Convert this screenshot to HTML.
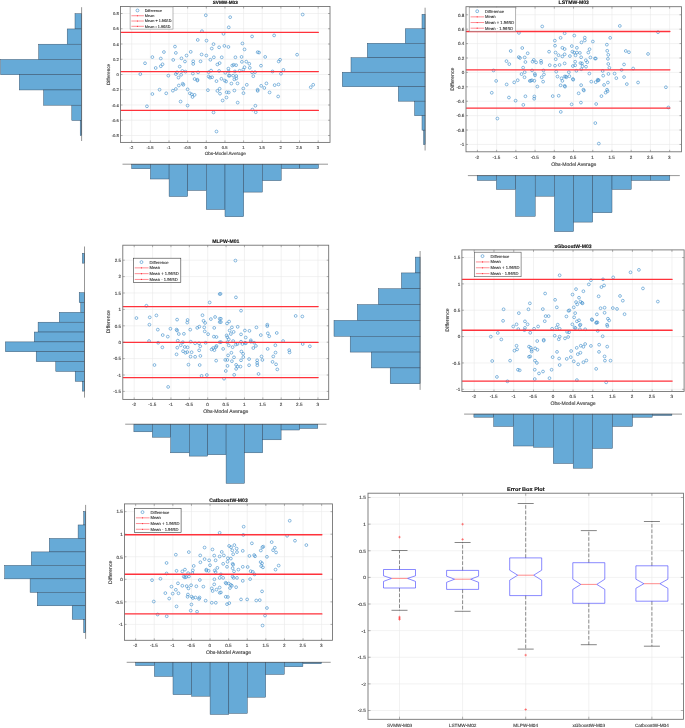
<!DOCTYPE html>
<html lang="en"><head><meta charset="utf-8"><title>Bland-Altman plots and error box plot</title>
<style>html,body{margin:0;padding:0;background:#fff}svg{display:block;text-rendering:geometricPrecision}</style></head>
<body>
<svg width="685" height="728" viewBox="0 0 685 728" font-family="'Liberation Sans', Arial, sans-serif">
<rect width="685" height="728" fill="#fff"/>
<defs><filter id="soft" x="0" y="0" width="100%" height="100%" filterUnits="userSpaceOnUse"><feGaussianBlur stdDeviation="0.32"/></filter></defs>
<g filter="url(#soft)">
<rect width="685" height="728" fill="#fff"/>
<rect x="120.5" y="6.5" width="209.5" height="135.9" fill="#fff"/>
<path d="M131.7 6.5V142.4M150.35 6.5V142.4M169 6.5V142.4M187.65 6.5V142.4M206.3 6.5V142.4M224.95 6.5V142.4M243.6 6.5V142.4M262.25 6.5V142.4M280.9 6.5V142.4M299.55 6.5V142.4M318.2 6.5V142.4M120.5 135.5H330M120.5 120.25H330M120.5 105H330M120.5 89.75H330M120.5 74.5H330M120.5 59.25H330M120.5 44H330M120.5 28.75H330M120.5 13.5H330" stroke="#e9e9e9" stroke-width="0.6" fill="none"/>
<g fill="none" stroke="#3b8cc9" stroke-width="0.6">
<circle cx="205.81" cy="15.24" r="1.4"/>
<circle cx="201.96" cy="31.18" r="1.4"/>
<circle cx="197.75" cy="39.94" r="1.4"/>
<circle cx="206.51" cy="40.64" r="1.4"/>
<circle cx="213.52" cy="44.15" r="1.4"/>
<circle cx="219.12" cy="47.3" r="1.4"/>
<circle cx="174.98" cy="46.6" r="1.4"/>
<circle cx="163.94" cy="52.03" r="1.4"/>
<circle cx="175.85" cy="52.91" r="1.4"/>
<circle cx="190.74" cy="51.85" r="1.4"/>
<circle cx="211.77" cy="48.53" r="1.4"/>
<circle cx="201.61" cy="54.48" r="1.4"/>
<circle cx="206.34" cy="55.53" r="1.4"/>
<circle cx="152.38" cy="57.11" r="1.4"/>
<circle cx="160.79" cy="58.51" r="1.4"/>
<circle cx="181.46" cy="58.34" r="1.4"/>
<circle cx="186.54" cy="55.53" r="1.4"/>
<circle cx="213.87" cy="57.28" r="1.4"/>
<circle cx="173.23" cy="59.91" r="1.4"/>
<circle cx="184.96" cy="61.49" r="1.4"/>
<circle cx="193.2" cy="61.31" r="1.4"/>
<circle cx="200.55" cy="61.31" r="1.4"/>
<circle cx="210.36" cy="59.74" r="1.4"/>
<circle cx="145.02" cy="63.24" r="1.4"/>
<circle cx="162.54" cy="64.29" r="1.4"/>
<circle cx="160.79" cy="66.22" r="1.4"/>
<circle cx="155.71" cy="67.97" r="1.4"/>
<circle cx="179.71" cy="66.57" r="1.4"/>
<circle cx="193.2" cy="63.94" r="1.4"/>
<circle cx="217.37" cy="64.47" r="1.4"/>
<circle cx="219.65" cy="63.07" r="1.4"/>
<circle cx="140.29" cy="74.1" r="1.4"/>
<circle cx="168.32" cy="75.68" r="1.4"/>
<circle cx="175.85" cy="74.1" r="1.4"/>
<circle cx="177.08" cy="72.35" r="1.4"/>
<circle cx="182.34" cy="70.95" r="1.4"/>
<circle cx="185.49" cy="71.65" r="1.4"/>
<circle cx="181.11" cy="74.8" r="1.4"/>
<circle cx="178.48" cy="77.61" r="1.4"/>
<circle cx="192.85" cy="73.58" r="1.4"/>
<circle cx="198.1" cy="72.35" r="1.4"/>
<circle cx="208.61" cy="72.18" r="1.4"/>
<circle cx="211.07" cy="70.6" r="1.4"/>
<circle cx="219.12" cy="70.95" r="1.4"/>
<circle cx="208.61" cy="76.55" r="1.4"/>
<circle cx="210.01" cy="77.61" r="1.4"/>
<circle cx="212.12" cy="77.26" r="1.4"/>
<circle cx="194.6" cy="79.01" r="1.4"/>
<circle cx="197.4" cy="79.71" r="1.4"/>
<circle cx="216.5" cy="81.11" r="1.4"/>
<circle cx="182.69" cy="83.74" r="1.4"/>
<circle cx="183.39" cy="84.79" r="1.4"/>
<circle cx="178.83" cy="85.49" r="1.4"/>
<circle cx="187.59" cy="89.34" r="1.4"/>
<circle cx="159.56" cy="89.69" r="1.4"/>
<circle cx="175.85" cy="88.99" r="1.4"/>
<circle cx="152.38" cy="94.01" r="1.4"/>
<circle cx="166.22" cy="93.31" r="1.4"/>
<circle cx="172.88" cy="90.69" r="1.4"/>
<circle cx="189.87" cy="93.31" r="1.4"/>
<circle cx="191.8" cy="94.36" r="1.4"/>
<circle cx="194.6" cy="94.89" r="1.4"/>
<circle cx="192.5" cy="96.99" r="1.4"/>
<circle cx="180.58" cy="101.55" r="1.4"/>
<circle cx="187.59" cy="105.58" r="1.4"/>
<circle cx="146.95" cy="106.28" r="1.4"/>
<circle cx="207.91" cy="90.16" r="1.4"/>
<circle cx="217.37" cy="90.86" r="1.4"/>
<circle cx="219.65" cy="88.76" r="1.4"/>
<circle cx="213.52" cy="112.41" r="1.4"/>
<circle cx="216.5" cy="131.5" r="1.4"/>
<circle cx="197.4" cy="80.53" r="1.4"/>
<circle cx="220" cy="93.66" r="1.4"/>
<circle cx="230.16" cy="17.17" r="1.4"/>
<circle cx="228.76" cy="27.33" r="1.4"/>
<circle cx="223.5" cy="33.81" r="1.4"/>
<circle cx="302.69" cy="14.54" r="1.4"/>
<circle cx="252.06" cy="36.44" r="1.4"/>
<circle cx="274.13" cy="35.39" r="1.4"/>
<circle cx="242.42" cy="43.45" r="1.4"/>
<circle cx="224.38" cy="45.9" r="1.4"/>
<circle cx="228.41" cy="46.95" r="1.4"/>
<circle cx="244.53" cy="49.4" r="1.4"/>
<circle cx="257.66" cy="52.2" r="1.4"/>
<circle cx="259.07" cy="52.55" r="1.4"/>
<circle cx="265.2" cy="56.93" r="1.4"/>
<circle cx="297.08" cy="54.66" r="1.4"/>
<circle cx="221.75" cy="57.28" r="1.4"/>
<circle cx="235.42" cy="57.28" r="1.4"/>
<circle cx="241.55" cy="56.93" r="1.4"/>
<circle cx="241.9" cy="61.84" r="1.4"/>
<circle cx="246.28" cy="61.66" r="1.4"/>
<circle cx="249.26" cy="63.77" r="1.4"/>
<circle cx="280.09" cy="59.74" r="1.4"/>
<circle cx="278.69" cy="61.49" r="1.4"/>
<circle cx="232.26" cy="65.52" r="1.4"/>
<circle cx="233.66" cy="64.82" r="1.4"/>
<circle cx="236.12" cy="65.17" r="1.4"/>
<circle cx="260.99" cy="65.69" r="1.4"/>
<circle cx="244.53" cy="67.27" r="1.4"/>
<circle cx="249.78" cy="67.8" r="1.4"/>
<circle cx="228.41" cy="68.67" r="1.4"/>
<circle cx="243.3" cy="69.55" r="1.4"/>
<circle cx="239.62" cy="70.77" r="1.4"/>
<circle cx="234.89" cy="71.47" r="1.4"/>
<circle cx="228.76" cy="71.47" r="1.4"/>
<circle cx="225.26" cy="72.7" r="1.4"/>
<circle cx="283.42" cy="69.9" r="1.4"/>
<circle cx="272.55" cy="71.47" r="1.4"/>
<circle cx="255.04" cy="72.18" r="1.4"/>
<circle cx="252.06" cy="72.35" r="1.4"/>
<circle cx="280.96" cy="73.75" r="1.4"/>
<circle cx="253.28" cy="76.2" r="1.4"/>
<circle cx="228.76" cy="75.68" r="1.4"/>
<circle cx="229.64" cy="75.68" r="1.4"/>
<circle cx="236.29" cy="76.03" r="1.4"/>
<circle cx="233.14" cy="75.68" r="1.4"/>
<circle cx="236.29" cy="78.48" r="1.4"/>
<circle cx="234.36" cy="79.36" r="1.4"/>
<circle cx="221.4" cy="78.83" r="1.4"/>
<circle cx="224.73" cy="80.58" r="1.4"/>
<circle cx="226.13" cy="81.46" r="1.4"/>
<circle cx="231.39" cy="83.56" r="1.4"/>
<circle cx="237.52" cy="83.39" r="1.4"/>
<circle cx="246.8" cy="84.79" r="1.4"/>
<circle cx="266.42" cy="83.39" r="1.4"/>
<circle cx="261.17" cy="85.84" r="1.4"/>
<circle cx="264.32" cy="87.94" r="1.4"/>
<circle cx="274.66" cy="85.14" r="1.4"/>
<circle cx="278.51" cy="84.44" r="1.4"/>
<circle cx="313.2" cy="84.79" r="1.4"/>
<circle cx="310.74" cy="87.24" r="1.4"/>
<circle cx="243.3" cy="88.47" r="1.4"/>
<circle cx="257.66" cy="89.69" r="1.4"/>
<circle cx="234.36" cy="90.51" r="1.4"/>
<circle cx="257.66" cy="90.86" r="1.4"/>
<circle cx="226.66" cy="92.26" r="1.4"/>
<circle cx="228.76" cy="92.44" r="1.4"/>
<circle cx="243.47" cy="93.14" r="1.4"/>
<circle cx="269.58" cy="92.44" r="1.4"/>
<circle cx="278.16" cy="96.47" r="1.4"/>
<circle cx="226.48" cy="97.52" r="1.4"/>
<circle cx="222.63" cy="100.5" r="1.4"/>
<circle cx="237.69" cy="102.6" r="1.4"/>
<circle cx="255.39" cy="105.75" r="1.4"/>
<circle cx="252.41" cy="109.61" r="1.4"/>
<circle cx="255.74" cy="112.23" r="1.4"/>
</g>
<path d="M121 32.28H318.4" stroke="#ff303b" stroke-width="1.2" stroke-linecap="round" fill="none"/>
<path d="M121 71.55H318.4" stroke="#ff303b" stroke-width="1.2" stroke-linecap="round" fill="none"/>
<path d="M121 110.44H318.4" stroke="#ff303b" stroke-width="1.2" stroke-linecap="round" fill="none"/>
<path d="M131.7 142.4v-2.0M131.7 6.5v2.0M150.35 142.4v-2.0M150.35 6.5v2.0M169 142.4v-2.0M169 6.5v2.0M187.65 142.4v-2.0M187.65 6.5v2.0M206.3 142.4v-2.0M206.3 6.5v2.0M224.95 142.4v-2.0M224.95 6.5v2.0M243.6 142.4v-2.0M243.6 6.5v2.0M262.25 142.4v-2.0M262.25 6.5v2.0M280.9 142.4v-2.0M280.9 6.5v2.0M299.55 142.4v-2.0M299.55 6.5v2.0M318.2 142.4v-2.0M318.2 6.5v2.0M120.5 135.5h2.0M330 135.5h-2.0M120.5 120.25h2.0M330 120.25h-2.0M120.5 105h2.0M330 105h-2.0M120.5 89.75h2.0M330 89.75h-2.0M120.5 74.5h2.0M330 74.5h-2.0M120.5 59.25h2.0M330 59.25h-2.0M120.5 44h2.0M330 44h-2.0M120.5 28.75h2.0M330 28.75h-2.0M120.5 13.5h2.0M330 13.5h-2.0" stroke="#6c6c6c" stroke-width="0.5" fill="none"/>
<rect x="120.5" y="6.5" width="209.5" height="135.9" fill="none" stroke="#6c6c6c" stroke-width="0.85"/>
<g font-size="4.15" fill="#424242">
<text transform="translate(131.4 148.99) scale(0.1)" font-size="41.5" fill="#424242" text-anchor="middle" stroke="#424242" stroke-width="1.3">-2</text>
<text transform="translate(150.05 148.99) scale(0.1)" font-size="41.5" fill="#424242" text-anchor="middle" stroke="#424242" stroke-width="1.3">-1.5</text>
<text transform="translate(168.7 148.99) scale(0.1)" font-size="41.5" fill="#424242" text-anchor="middle" stroke="#424242" stroke-width="1.3">-1</text>
<text transform="translate(187.35 148.99) scale(0.1)" font-size="41.5" fill="#424242" text-anchor="middle" stroke="#424242" stroke-width="1.3">-0.5</text>
<text transform="translate(206 148.99) scale(0.1)" font-size="41.5" fill="#424242" text-anchor="middle" stroke="#424242" stroke-width="1.3">0</text>
<text transform="translate(224.65 148.99) scale(0.1)" font-size="41.5" fill="#424242" text-anchor="middle" stroke="#424242" stroke-width="1.3">0.5</text>
<text transform="translate(243.3 148.99) scale(0.1)" font-size="41.5" fill="#424242" text-anchor="middle" stroke="#424242" stroke-width="1.3">1</text>
<text transform="translate(261.95 148.99) scale(0.1)" font-size="41.5" fill="#424242" text-anchor="middle" stroke="#424242" stroke-width="1.3">1.5</text>
<text transform="translate(280.6 148.99) scale(0.1)" font-size="41.5" fill="#424242" text-anchor="middle" stroke="#424242" stroke-width="1.3">2</text>
<text transform="translate(299.25 148.99) scale(0.1)" font-size="41.5" fill="#424242" text-anchor="middle" stroke="#424242" stroke-width="1.3">2.5</text>
<text transform="translate(317.9 148.99) scale(0.1)" font-size="41.5" fill="#424242" text-anchor="middle" stroke="#424242" stroke-width="1.3">3</text>
<text transform="translate(118.8 137.19) scale(0.1)" font-size="41.5" fill="#424242" text-anchor="end" stroke="#424242" stroke-width="1.3">-0.8</text>
<text transform="translate(118.8 121.94) scale(0.1)" font-size="41.5" fill="#424242" text-anchor="end" stroke="#424242" stroke-width="1.3">-0.6</text>
<text transform="translate(118.8 106.69) scale(0.1)" font-size="41.5" fill="#424242" text-anchor="end" stroke="#424242" stroke-width="1.3">-0.4</text>
<text transform="translate(118.8 91.44) scale(0.1)" font-size="41.5" fill="#424242" text-anchor="end" stroke="#424242" stroke-width="1.3">-0.2</text>
<text transform="translate(118.8 76.19) scale(0.1)" font-size="41.5" fill="#424242" text-anchor="end" stroke="#424242" stroke-width="1.3">0</text>
<text transform="translate(118.8 60.94) scale(0.1)" font-size="41.5" fill="#424242" text-anchor="end" stroke="#424242" stroke-width="1.3">0.2</text>
<text transform="translate(118.8 45.69) scale(0.1)" font-size="41.5" fill="#424242" text-anchor="end" stroke="#424242" stroke-width="1.3">0.4</text>
<text transform="translate(118.8 30.44) scale(0.1)" font-size="41.5" fill="#424242" text-anchor="end" stroke="#424242" stroke-width="1.3">0.6</text>
<text transform="translate(118.8 15.19) scale(0.1)" font-size="41.5" fill="#424242" text-anchor="end" stroke="#424242" stroke-width="1.3">0.8</text>
</g>
<text transform="translate(225.25 154.8) scale(0.1)" font-size="46.77" fill="#424242" text-anchor="middle" stroke="#424242" stroke-width="1.3">Obs-Model Average</text>
<text transform="translate(109.6 74.45) rotate(-90) scale(0.1)" font-size="46.77" fill="#424242" text-anchor="middle" stroke="#424242" stroke-width="1.3">Difference</text>
<text transform="translate(225.25 4.4) scale(0.1)" font-size="46.77" fill="#111" text-anchor="middle" font-weight="bold" stroke="#111" stroke-width="1.3">SVMW-M03</text>
<rect x="130.1" y="6.9" width="42.9" height="22.2" fill="#fff" stroke="#8a8a8a" stroke-width="0.6"/>
<circle cx="137.48" cy="10.45" r="1.45" fill="none" stroke="#3b8cc9" stroke-width="0.6"/>
<text transform="translate(144.77 11.83) scale(0.1)" font-size="38.18" fill="#2a2a2a" text-anchor="start" stroke="#2a2a2a" stroke-width="1">Difference</text>
<path d="M131.39 15.74H143.91" stroke="#ff303b" stroke-width="0.55"/>
<circle cx="137.48" cy="15.74" r="0.6" fill="#ff303b"/>
<text transform="translate(144.77 17.11) scale(0.1)" font-size="38.18" fill="#2a2a2a" text-anchor="start" stroke="#2a2a2a" stroke-width="1">Mean</text>
<path d="M131.39 21.02H143.91" stroke="#ff303b" stroke-width="0.55"/>
<circle cx="137.48" cy="21.02" r="0.6" fill="#ff303b"/>
<text transform="translate(144.77 22.39) scale(0.1)" font-size="38.18" fill="#2a2a2a" text-anchor="start" stroke="#2a2a2a" stroke-width="1">Mean + 1.96SD</text>
<path d="M131.39 26.3H143.91" stroke="#ff303b" stroke-width="0.55"/>
<circle cx="137.48" cy="26.3" r="0.6" fill="#ff303b"/>
<text transform="translate(144.77 27.68) scale(0.1)" font-size="38.18" fill="#2a2a2a" text-anchor="start" stroke="#2a2a2a" stroke-width="1">Mean - 1.96SD</text>
<g fill="#66aad7" stroke="#324a62" stroke-width="0.45">
<rect x="75" y="13.7" width="6.6" height="15.25"/>
<rect x="67.2" y="28.95" width="14.4" height="15.25"/>
<rect x="38.7" y="44.2" width="42.9" height="15.25"/>
<rect x="0.6" y="59.45" width="81" height="15.25"/>
<rect x="19.3" y="74.7" width="62.3" height="15.25"/>
<rect x="43.6" y="89.95" width="38" height="15.25"/>
<rect x="71.8" y="105.2" width="9.8" height="15.25"/>
<rect x="80.2" y="120.45" width="1.4" height="15.25"/>
</g>
<path d="M81.6 7.2V141" stroke="#505050" stroke-width="0.6"/>
<g fill="#66aad7" stroke="#324a62" stroke-width="0.45">
<rect x="131.7" y="164.2" width="18.7" height="4.5"/>
<rect x="150.4" y="164.2" width="18.7" height="14.8"/>
<rect x="169.1" y="164.2" width="18.6" height="32.3"/>
<rect x="187.7" y="164.2" width="18.6" height="26.2"/>
<rect x="206.3" y="164.2" width="18.7" height="45.3"/>
<rect x="225" y="164.2" width="18.7" height="52.5"/>
<rect x="243.7" y="164.2" width="18.7" height="27.9"/>
<rect x="262.4" y="164.2" width="18.8" height="16.4"/>
<rect x="281.2" y="164.2" width="18.6" height="4.3"/>
<rect x="299.8" y="164.2" width="18.7" height="4.3"/>
</g>
<path d="M122.5 164.2H328" stroke="#505050" stroke-width="0.6"/>
<rect x="466" y="6.7" width="215.5" height="145.1" fill="#fff"/>
<path d="M477.4 6.7V151.8M496.62 6.7V151.8M515.85 6.7V151.8M535.07 6.7V151.8M554.3 6.7V151.8M573.52 6.7V151.8M592.75 6.7V151.8M611.97 6.7V151.8M631.2 6.7V151.8M650.42 6.7V151.8M669.65 6.7V151.8M466 144.45H681.5M466 130.04H681.5M466 115.63H681.5M466 101.22H681.5M466 86.81H681.5M466 72.4H681.5M466 57.99H681.5M466 43.58H681.5M466 29.17H681.5M466 14.76H681.5" stroke="#e9e9e9" stroke-width="0.6" fill="none"/>
<g fill="none" stroke="#3b8cc9" stroke-width="0.6">
<circle cx="542.23" cy="26.45" r="1.4"/>
<circle cx="518.93" cy="32.93" r="1.4"/>
<circle cx="564.65" cy="33.28" r="1.4"/>
<circle cx="560.62" cy="37.84" r="1.4"/>
<circle cx="554.84" cy="40.64" r="1.4"/>
<circle cx="555.01" cy="45.72" r="1.4"/>
<circle cx="522.26" cy="48" r="1.4"/>
<circle cx="510.69" cy="50.98" r="1.4"/>
<circle cx="549.06" cy="51.68" r="1.4"/>
<circle cx="527.69" cy="53.26" r="1.4"/>
<circle cx="562.37" cy="47.82" r="1.4"/>
<circle cx="564.65" cy="49.05" r="1.4"/>
<circle cx="555.54" cy="52.55" r="1.4"/>
<circle cx="558.52" cy="55.18" r="1.4"/>
<circle cx="562.37" cy="56.41" r="1.4"/>
<circle cx="564.65" cy="54.31" r="1.4"/>
<circle cx="518.75" cy="57.11" r="1.4"/>
<circle cx="519.98" cy="57.99" r="1.4"/>
<circle cx="524.71" cy="57.46" r="1.4"/>
<circle cx="555.72" cy="59.21" r="1.4"/>
<circle cx="533.82" cy="59.91" r="1.4"/>
<circle cx="532.59" cy="61.66" r="1.4"/>
<circle cx="536.09" cy="62.36" r="1.4"/>
<circle cx="541" cy="60.79" r="1.4"/>
<circle cx="541.18" cy="62.89" r="1.4"/>
<circle cx="506.49" cy="61.14" r="1.4"/>
<circle cx="509.29" cy="64.12" r="1.4"/>
<circle cx="525.41" cy="62.01" r="1.4"/>
<circle cx="549.76" cy="65.17" r="1.4"/>
<circle cx="555.01" cy="65.69" r="1.4"/>
<circle cx="559.57" cy="64.99" r="1.4"/>
<circle cx="564.65" cy="63.42" r="1.4"/>
<circle cx="523.13" cy="67.62" r="1.4"/>
<circle cx="493.53" cy="70.42" r="1.4"/>
<circle cx="524.71" cy="72.18" r="1.4"/>
<circle cx="532.07" cy="70.42" r="1.4"/>
<circle cx="543.45" cy="70.42" r="1.4"/>
<circle cx="556.24" cy="71.65" r="1.4"/>
<circle cx="521.55" cy="74.1" r="1.4"/>
<circle cx="534.87" cy="73.93" r="1.4"/>
<circle cx="535.04" cy="75.33" r="1.4"/>
<circle cx="543.98" cy="74.45" r="1.4"/>
<circle cx="524.53" cy="77.26" r="1.4"/>
<circle cx="541.7" cy="77.26" r="1.4"/>
<circle cx="557.47" cy="76.55" r="1.4"/>
<circle cx="561.5" cy="78.31" r="1.4"/>
<circle cx="564.65" cy="76.55" r="1.4"/>
<circle cx="496.15" cy="80.93" r="1.4"/>
<circle cx="517.7" cy="80.23" r="1.4"/>
<circle cx="514.2" cy="82.34" r="1.4"/>
<circle cx="506.66" cy="84.44" r="1.4"/>
<circle cx="529.79" cy="80.93" r="1.4"/>
<circle cx="530.84" cy="80.76" r="1.4"/>
<circle cx="531.89" cy="80.23" r="1.4"/>
<circle cx="534.34" cy="80.76" r="1.4"/>
<circle cx="543.1" cy="81.64" r="1.4"/>
<circle cx="537.32" cy="86.54" r="1.4"/>
<circle cx="560.62" cy="85.31" r="1.4"/>
<circle cx="564.65" cy="85.84" r="1.4"/>
<circle cx="562.37" cy="80.88" r="1.4"/>
<circle cx="491.77" cy="92.79" r="1.4"/>
<circle cx="508.94" cy="97.52" r="1.4"/>
<circle cx="525.41" cy="96.29" r="1.4"/>
<circle cx="534.34" cy="96.47" r="1.4"/>
<circle cx="534.17" cy="98.74" r="1.4"/>
<circle cx="552.74" cy="96.12" r="1.4"/>
<circle cx="558.69" cy="95.77" r="1.4"/>
<circle cx="515.6" cy="100.67" r="1.4"/>
<circle cx="523.31" cy="104.88" r="1.4"/>
<circle cx="560.8" cy="111.88" r="1.4"/>
<circle cx="497.38" cy="118.54" r="1.4"/>
<circle cx="619.83" cy="25.93" r="1.4"/>
<circle cx="658.02" cy="32.23" r="1.4"/>
<circle cx="574.28" cy="35.56" r="1.4"/>
<circle cx="584.8" cy="37.66" r="1.4"/>
<circle cx="610.2" cy="37.84" r="1.4"/>
<circle cx="584.8" cy="40.47" r="1.4"/>
<circle cx="581.47" cy="42.39" r="1.4"/>
<circle cx="592.85" cy="41.52" r="1.4"/>
<circle cx="606.87" cy="44.67" r="1.4"/>
<circle cx="571.83" cy="46.07" r="1.4"/>
<circle cx="576.91" cy="47.82" r="1.4"/>
<circle cx="589.53" cy="49.23" r="1.4"/>
<circle cx="607.22" cy="50.8" r="1.4"/>
<circle cx="625.79" cy="50.98" r="1.4"/>
<circle cx="628.94" cy="52.2" r="1.4"/>
<circle cx="572.36" cy="51.68" r="1.4"/>
<circle cx="574.11" cy="52.55" r="1.4"/>
<circle cx="576.91" cy="52.55" r="1.4"/>
<circle cx="579.89" cy="52.91" r="1.4"/>
<circle cx="588.3" cy="52.55" r="1.4"/>
<circle cx="648.04" cy="53.96" r="1.4"/>
<circle cx="569.91" cy="56.06" r="1.4"/>
<circle cx="575.51" cy="55.36" r="1.4"/>
<circle cx="608.27" cy="54.83" r="1.4"/>
<circle cx="581.12" cy="57.28" r="1.4"/>
<circle cx="590.4" cy="57.46" r="1.4"/>
<circle cx="594.96" cy="58.51" r="1.4"/>
<circle cx="595.83" cy="58.51" r="1.4"/>
<circle cx="607.92" cy="58.86" r="1.4"/>
<circle cx="575.16" cy="61.66" r="1.4"/>
<circle cx="585.85" cy="60.26" r="1.4"/>
<circle cx="587.25" cy="62.19" r="1.4"/>
<circle cx="580.42" cy="63.07" r="1.4"/>
<circle cx="581.99" cy="63.42" r="1.4"/>
<circle cx="608.27" cy="63.94" r="1.4"/>
<circle cx="624.04" cy="64.47" r="1.4"/>
<circle cx="572.88" cy="66.04" r="1.4"/>
<circle cx="575.16" cy="65.34" r="1.4"/>
<circle cx="582.52" cy="66.22" r="1.4"/>
<circle cx="586.02" cy="66.74" r="1.4"/>
<circle cx="609.32" cy="67.8" r="1.4"/>
<circle cx="633.15" cy="68.5" r="1.4"/>
<circle cx="581.29" cy="69.2" r="1.4"/>
<circle cx="621.58" cy="69.9" r="1.4"/>
<circle cx="576.39" cy="70.77" r="1.4"/>
<circle cx="602.66" cy="70.95" r="1.4"/>
<circle cx="568.85" cy="72.18" r="1.4"/>
<circle cx="589.35" cy="73.58" r="1.4"/>
<circle cx="608.45" cy="73.93" r="1.4"/>
<circle cx="614.58" cy="73.58" r="1.4"/>
<circle cx="603.19" cy="75.68" r="1.4"/>
<circle cx="569.38" cy="76.2" r="1.4"/>
<circle cx="565.88" cy="76.55" r="1.4"/>
<circle cx="566.4" cy="77.26" r="1.4"/>
<circle cx="624.04" cy="77.08" r="1.4"/>
<circle cx="616.33" cy="78.13" r="1.4"/>
<circle cx="572.88" cy="79.01" r="1.4"/>
<circle cx="573.23" cy="79.71" r="1.4"/>
<circle cx="597.76" cy="79.71" r="1.4"/>
<circle cx="598.64" cy="80.06" r="1.4"/>
<circle cx="591.28" cy="81.64" r="1.4"/>
<circle cx="595.66" cy="82.16" r="1.4"/>
<circle cx="607.92" cy="82.51" r="1.4"/>
<circle cx="638.05" cy="82.51" r="1.4"/>
<circle cx="626.84" cy="84.09" r="1.4"/>
<circle cx="604.07" cy="84.96" r="1.4"/>
<circle cx="581.12" cy="85.14" r="1.4"/>
<circle cx="665.91" cy="87.24" r="1.4"/>
<circle cx="583.39" cy="89.69" r="1.4"/>
<circle cx="607.04" cy="89.69" r="1.4"/>
<circle cx="597.93" cy="80.53" r="1.4"/>
<circle cx="565" cy="86.66" r="1.4"/>
<circle cx="583.92" cy="90.51" r="1.4"/>
<circle cx="607.57" cy="91.21" r="1.4"/>
<circle cx="605.64" cy="92.61" r="1.4"/>
<circle cx="578.66" cy="93.31" r="1.4"/>
<circle cx="601.44" cy="96.12" r="1.4"/>
<circle cx="580.94" cy="102.6" r="1.4"/>
<circle cx="571.66" cy="104.35" r="1.4"/>
<circle cx="596.18" cy="104" r="1.4"/>
<circle cx="668.36" cy="107.5" r="1.4"/>
<circle cx="595.31" cy="123.09" r="1.4"/>
<circle cx="598.81" cy="143.59" r="1.4"/>
</g>
<path d="M466.5 31.5H669.85" stroke="#ff303b" stroke-width="1.35" stroke-linecap="round" fill="none"/>
<path d="M466.5 69.8H669.85" stroke="#ff303b" stroke-width="1.35" stroke-linecap="round" fill="none"/>
<path d="M466.5 108.09H669.85" stroke="#ff303b" stroke-width="1.35" stroke-linecap="round" fill="none"/>
<path d="M477.4 151.8v-2.0M477.4 6.7v2.0M496.62 151.8v-2.0M496.62 6.7v2.0M515.85 151.8v-2.0M515.85 6.7v2.0M535.07 151.8v-2.0M535.07 6.7v2.0M554.3 151.8v-2.0M554.3 6.7v2.0M573.52 151.8v-2.0M573.52 6.7v2.0M592.75 151.8v-2.0M592.75 6.7v2.0M611.97 151.8v-2.0M611.97 6.7v2.0M631.2 151.8v-2.0M631.2 6.7v2.0M650.42 151.8v-2.0M650.42 6.7v2.0M669.65 151.8v-2.0M669.65 6.7v2.0M466 144.45h2.0M681.5 144.45h-2.0M466 130.04h2.0M681.5 130.04h-2.0M466 115.63h2.0M681.5 115.63h-2.0M466 101.22h2.0M681.5 101.22h-2.0M466 86.81h2.0M681.5 86.81h-2.0M466 72.4h2.0M681.5 72.4h-2.0M466 57.99h2.0M681.5 57.99h-2.0M466 43.58h2.0M681.5 43.58h-2.0M466 29.17h2.0M681.5 29.17h-2.0M466 14.76h2.0M681.5 14.76h-2.0" stroke="#6c6c6c" stroke-width="0.5" fill="none"/>
<rect x="466" y="6.7" width="215.5" height="145.1" fill="none" stroke="#6c6c6c" stroke-width="0.85"/>
<g font-size="4.55" fill="#424242">
<text transform="translate(477.1 158.69) scale(0.1)" font-size="45.5" fill="#424242" text-anchor="middle" stroke="#424242" stroke-width="1.3">-2</text>
<text transform="translate(496.32 158.69) scale(0.1)" font-size="45.5" fill="#424242" text-anchor="middle" stroke="#424242" stroke-width="1.3">-1.5</text>
<text transform="translate(515.55 158.69) scale(0.1)" font-size="45.5" fill="#424242" text-anchor="middle" stroke="#424242" stroke-width="1.3">-1</text>
<text transform="translate(534.77 158.69) scale(0.1)" font-size="45.5" fill="#424242" text-anchor="middle" stroke="#424242" stroke-width="1.3">-0.5</text>
<text transform="translate(554 158.69) scale(0.1)" font-size="45.5" fill="#424242" text-anchor="middle" stroke="#424242" stroke-width="1.3">0</text>
<text transform="translate(573.23 158.69) scale(0.1)" font-size="45.5" fill="#424242" text-anchor="middle" stroke="#424242" stroke-width="1.3">0.5</text>
<text transform="translate(592.45 158.69) scale(0.1)" font-size="45.5" fill="#424242" text-anchor="middle" stroke="#424242" stroke-width="1.3">1</text>
<text transform="translate(611.67 158.69) scale(0.1)" font-size="45.5" fill="#424242" text-anchor="middle" stroke="#424242" stroke-width="1.3">1.5</text>
<text transform="translate(630.9 158.69) scale(0.1)" font-size="45.5" fill="#424242" text-anchor="middle" stroke="#424242" stroke-width="1.3">2</text>
<text transform="translate(650.12 158.69) scale(0.1)" font-size="45.5" fill="#424242" text-anchor="middle" stroke="#424242" stroke-width="1.3">2.5</text>
<text transform="translate(669.35 158.69) scale(0.1)" font-size="45.5" fill="#424242" text-anchor="middle" stroke="#424242" stroke-width="1.3">3</text>
<text transform="translate(464.3 146.29) scale(0.1)" font-size="45.5" fill="#424242" text-anchor="end" stroke="#424242" stroke-width="1.3">-1</text>
<text transform="translate(464.3 131.88) scale(0.1)" font-size="45.5" fill="#424242" text-anchor="end" stroke="#424242" stroke-width="1.3">-0.8</text>
<text transform="translate(464.3 117.47) scale(0.1)" font-size="45.5" fill="#424242" text-anchor="end" stroke="#424242" stroke-width="1.3">-0.6</text>
<text transform="translate(464.3 103.06) scale(0.1)" font-size="45.5" fill="#424242" text-anchor="end" stroke="#424242" stroke-width="1.3">-0.4</text>
<text transform="translate(464.3 88.65) scale(0.1)" font-size="45.5" fill="#424242" text-anchor="end" stroke="#424242" stroke-width="1.3">-0.2</text>
<text transform="translate(464.3 74.24) scale(0.1)" font-size="45.5" fill="#424242" text-anchor="end" stroke="#424242" stroke-width="1.3">0</text>
<text transform="translate(464.3 59.83) scale(0.1)" font-size="45.5" fill="#424242" text-anchor="end" stroke="#424242" stroke-width="1.3">0.2</text>
<text transform="translate(464.3 45.42) scale(0.1)" font-size="45.5" fill="#424242" text-anchor="end" stroke="#424242" stroke-width="1.3">0.4</text>
<text transform="translate(464.3 31.01) scale(0.1)" font-size="45.5" fill="#424242" text-anchor="end" stroke="#424242" stroke-width="1.3">0.6</text>
<text transform="translate(464.3 16.6) scale(0.1)" font-size="45.5" fill="#424242" text-anchor="end" stroke="#424242" stroke-width="1.3">0.8</text>
</g>
<text transform="translate(573.75 165.5) scale(0.1)" font-size="51.28" fill="#424242" text-anchor="middle" stroke="#424242" stroke-width="1.3">Obs-Model Average</text>
<text transform="translate(453.5 79.2) rotate(-90) scale(0.1)" font-size="51.28" fill="#424242" text-anchor="middle" stroke="#424242" stroke-width="1.3">Difference</text>
<text transform="translate(573.75 4.4) scale(0.1)" font-size="51.28" fill="#111" text-anchor="middle" font-weight="bold" stroke="#111" stroke-width="1.3">LSTMW-M03</text>
<rect x="469.2" y="7.4" width="46.5" height="23.8" fill="#fff" stroke="#8a8a8a" stroke-width="0.6"/>
<circle cx="477.2" cy="11.21" r="1.45" fill="none" stroke="#3b8cc9" stroke-width="0.6"/>
<text transform="translate(485.1 12.71) scale(0.1)" font-size="41.86" fill="#2a2a2a" text-anchor="start" stroke="#2a2a2a" stroke-width="1">Difference</text>
<path d="M470.59 16.87H484.17" stroke="#ff303b" stroke-width="0.55"/>
<circle cx="477.2" cy="16.87" r="0.6" fill="#ff303b"/>
<text transform="translate(485.1 18.38) scale(0.1)" font-size="41.86" fill="#2a2a2a" text-anchor="start" stroke="#2a2a2a" stroke-width="1">Mean</text>
<path d="M470.59 22.54H484.17" stroke="#ff303b" stroke-width="0.55"/>
<circle cx="477.2" cy="22.54" r="0.6" fill="#ff303b"/>
<text transform="translate(485.1 24.04) scale(0.1)" font-size="41.86" fill="#2a2a2a" text-anchor="start" stroke="#2a2a2a" stroke-width="1">Mean + 1.96SD</text>
<path d="M470.59 28.2H484.17" stroke="#ff303b" stroke-width="0.55"/>
<circle cx="477.2" cy="28.2" r="0.6" fill="#ff303b"/>
<text transform="translate(485.1 29.71) scale(0.1)" font-size="41.86" fill="#2a2a2a" text-anchor="start" stroke="#2a2a2a" stroke-width="1">Mean - 1.96SD</text>
<g fill="#66aad7" stroke="#324a62" stroke-width="0.45">
<rect x="422" y="14.3" width="3.1" height="14.48"/>
<rect x="405.3" y="28.78" width="19.8" height="14.48"/>
<rect x="367.3" y="43.26" width="57.8" height="14.48"/>
<rect x="351" y="57.74" width="74.1" height="14.48"/>
<rect x="342.3" y="72.22" width="82.8" height="14.48"/>
<rect x="398.3" y="86.7" width="26.8" height="14.48"/>
<rect x="414.6" y="101.18" width="10.5" height="14.48"/>
<rect x="422" y="115.66" width="3.1" height="14.48"/>
<rect x="423.6" y="130.14" width="1.5" height="14.48"/>
</g>
<path d="M425.1 7.7V150.5" stroke="#505050" stroke-width="0.6"/>
<g fill="#66aad7" stroke="#324a62" stroke-width="0.45">
<rect x="477.2" y="175.6" width="19.2" height="4.8"/>
<rect x="496.4" y="175.6" width="19.3" height="13.8"/>
<rect x="515.7" y="175.6" width="19.5" height="40.7"/>
<rect x="535.2" y="175.6" width="19.2" height="20.6"/>
<rect x="554.4" y="175.6" width="19.2" height="56"/>
<rect x="573.6" y="175.6" width="19.1" height="46.5"/>
<rect x="592.7" y="175.6" width="19.3" height="37.1"/>
<rect x="612" y="175.6" width="19.2" height="13.8"/>
<rect x="631.2" y="175.6" width="19.3" height="4.8"/>
<rect x="650.5" y="175.6" width="19.3" height="4.8"/>
</g>
<path d="M467.9 175.6H679.8" stroke="#505050" stroke-width="0.6"/>
<rect x="122.8" y="245.2" width="205.9" height="154.2" fill="#fff"/>
<path d="M134.2 245.2V399.4M152.57 245.2V399.4M170.95 245.2V399.4M189.32 245.2V399.4M207.7 245.2V399.4M226.07 245.2V399.4M244.45 245.2V399.4M262.82 245.2V399.4M281.2 245.2V399.4M299.57 245.2V399.4M317.95 245.2V399.4M122.8 391.4H328.7M122.8 375H328.7M122.8 358.6H328.7M122.8 342.2H328.7M122.8 325.8H328.7M122.8 309.4H328.7M122.8 293H328.7M122.8 276.6H328.7M122.8 260.2H328.7" stroke="#e9e9e9" stroke-width="0.6" fill="none"/>
<g fill="none" stroke="#3b8cc9" stroke-width="0.6">
<circle cx="146.42" cy="305.77" r="1.4"/>
<circle cx="209.66" cy="302.45" r="1.4"/>
<circle cx="219.65" cy="294.04" r="1.4"/>
<circle cx="136.44" cy="318.04" r="1.4"/>
<circle cx="149.75" cy="317.34" r="1.4"/>
<circle cx="156.41" cy="315.41" r="1.4"/>
<circle cx="202.48" cy="315.23" r="1.4"/>
<circle cx="177.08" cy="319.61" r="1.4"/>
<circle cx="187.59" cy="319.96" r="1.4"/>
<circle cx="203.53" cy="320.84" r="1.4"/>
<circle cx="210.89" cy="319.09" r="1.4"/>
<circle cx="215.09" cy="316.99" r="1.4"/>
<circle cx="219.65" cy="318.74" r="1.4"/>
<circle cx="187.24" cy="322.59" r="1.4"/>
<circle cx="205.11" cy="322.94" r="1.4"/>
<circle cx="149.4" cy="324.69" r="1.4"/>
<circle cx="219.65" cy="322.07" r="1.4"/>
<circle cx="157.81" cy="329.64" r="1.4"/>
<circle cx="170.42" cy="328.76" r="1.4"/>
<circle cx="176.55" cy="329.64" r="1.4"/>
<circle cx="177.08" cy="330.51" r="1.4"/>
<circle cx="190.22" cy="329.64" r="1.4"/>
<circle cx="197.23" cy="327.88" r="1.4"/>
<circle cx="199.33" cy="326.66" r="1.4"/>
<circle cx="204.23" cy="327.36" r="1.4"/>
<circle cx="214.22" cy="327.88" r="1.4"/>
<circle cx="162.72" cy="335.07" r="1.4"/>
<circle cx="178.83" cy="334.01" r="1.4"/>
<circle cx="183.91" cy="333.84" r="1.4"/>
<circle cx="204.76" cy="331.39" r="1.4"/>
<circle cx="208.09" cy="334.19" r="1.4"/>
<circle cx="167.8" cy="336.64" r="1.4"/>
<circle cx="213.87" cy="336.64" r="1.4"/>
<circle cx="216.5" cy="336.99" r="1.4"/>
<circle cx="149.05" cy="341.02" r="1.4"/>
<circle cx="158.16" cy="342.77" r="1.4"/>
<circle cx="177.78" cy="340.67" r="1.4"/>
<circle cx="182.86" cy="342.25" r="1.4"/>
<circle cx="190.74" cy="341.72" r="1.4"/>
<circle cx="195.12" cy="343.3" r="1.4"/>
<circle cx="198.98" cy="343.3" r="1.4"/>
<circle cx="205.64" cy="342.77" r="1.4"/>
<circle cx="219.65" cy="342.25" r="1.4"/>
<circle cx="162.36" cy="347.33" r="1.4"/>
<circle cx="177.26" cy="347.68" r="1.4"/>
<circle cx="180.76" cy="345.23" r="1.4"/>
<circle cx="184.79" cy="346.98" r="1.4"/>
<circle cx="187.59" cy="347.33" r="1.4"/>
<circle cx="200.2" cy="346.28" r="1.4"/>
<circle cx="216.5" cy="345.93" r="1.4"/>
<circle cx="215.97" cy="347.15" r="1.4"/>
<circle cx="213.17" cy="348.03" r="1.4"/>
<circle cx="211.59" cy="349.43" r="1.4"/>
<circle cx="214.39" cy="350.13" r="1.4"/>
<circle cx="199.15" cy="350.31" r="1.4"/>
<circle cx="183.04" cy="351.18" r="1.4"/>
<circle cx="185.49" cy="352.76" r="1.4"/>
<circle cx="187.24" cy="352.06" r="1.4"/>
<circle cx="191.62" cy="352.23" r="1.4"/>
<circle cx="176.55" cy="354.34" r="1.4"/>
<circle cx="190.57" cy="356.61" r="1.4"/>
<circle cx="195.12" cy="356.79" r="1.4"/>
<circle cx="200.38" cy="355.91" r="1.4"/>
<circle cx="216.15" cy="360.64" r="1.4"/>
<circle cx="154.48" cy="365.02" r="1.4"/>
<circle cx="188.47" cy="364.67" r="1.4"/>
<circle cx="199.68" cy="365.02" r="1.4"/>
<circle cx="206.86" cy="375.01" r="1.4"/>
<circle cx="201.61" cy="375.88" r="1.4"/>
<circle cx="168.15" cy="386.92" r="1.4"/>
<circle cx="235.42" cy="260.58" r="1.4"/>
<circle cx="220.53" cy="293.86" r="1.4"/>
<circle cx="235.94" cy="297.36" r="1.4"/>
<circle cx="241.02" cy="310.68" r="1.4"/>
<circle cx="295.68" cy="315.93" r="1.4"/>
<circle cx="302.34" cy="316.46" r="1.4"/>
<circle cx="220.88" cy="318.74" r="1.4"/>
<circle cx="220.88" cy="322.07" r="1.4"/>
<circle cx="229.11" cy="321.54" r="1.4"/>
<circle cx="227.01" cy="323.47" r="1.4"/>
<circle cx="267.3" cy="324.69" r="1.4"/>
<circle cx="267.3" cy="326.13" r="1.4"/>
<circle cx="231.91" cy="327.36" r="1.4"/>
<circle cx="237.69" cy="326.83" r="1.4"/>
<circle cx="256.44" cy="327.36" r="1.4"/>
<circle cx="229.64" cy="330.51" r="1.4"/>
<circle cx="233.66" cy="331.91" r="1.4"/>
<circle cx="244.88" cy="330.51" r="1.4"/>
<circle cx="249.43" cy="330.86" r="1.4"/>
<circle cx="230.86" cy="334.01" r="1.4"/>
<circle cx="241.02" cy="334.36" r="1.4"/>
<circle cx="267.82" cy="333.31" r="1.4"/>
<circle cx="276.76" cy="332.96" r="1.4"/>
<circle cx="260.82" cy="335.07" r="1.4"/>
<circle cx="269.23" cy="336.29" r="1.4"/>
<circle cx="226.66" cy="335.42" r="1.4"/>
<circle cx="227.36" cy="337.17" r="1.4"/>
<circle cx="245.75" cy="337.52" r="1.4"/>
<circle cx="228.76" cy="339.27" r="1.4"/>
<circle cx="250.83" cy="340.32" r="1.4"/>
<circle cx="283.07" cy="341.02" r="1.4"/>
<circle cx="220.88" cy="342.07" r="1.4"/>
<circle cx="227.36" cy="342.25" r="1.4"/>
<circle cx="233.14" cy="341.02" r="1.4"/>
<circle cx="241.02" cy="341.72" r="1.4"/>
<circle cx="245.05" cy="342.77" r="1.4"/>
<circle cx="245.75" cy="343.3" r="1.4"/>
<circle cx="250.83" cy="341.72" r="1.4"/>
<circle cx="254.16" cy="342.77" r="1.4"/>
<circle cx="237.52" cy="344" r="1.4"/>
<circle cx="235.77" cy="344.53" r="1.4"/>
<circle cx="242.42" cy="344" r="1.4"/>
<circle cx="302.69" cy="344" r="1.4"/>
<circle cx="309.87" cy="346.28" r="1.4"/>
<circle cx="228.76" cy="345.4" r="1.4"/>
<circle cx="232.61" cy="347.15" r="1.4"/>
<circle cx="255.91" cy="345.93" r="1.4"/>
<circle cx="275.36" cy="345.23" r="1.4"/>
<circle cx="223.15" cy="348.91" r="1.4"/>
<circle cx="253.28" cy="348.03" r="1.4"/>
<circle cx="267.65" cy="348.91" r="1.4"/>
<circle cx="289.2" cy="350.13" r="1.4"/>
<circle cx="289.55" cy="352.41" r="1.4"/>
<circle cx="231.39" cy="352.76" r="1.4"/>
<circle cx="241.37" cy="351.53" r="1.4"/>
<circle cx="243.12" cy="353.81" r="1.4"/>
<circle cx="275.53" cy="352.58" r="1.4"/>
<circle cx="228.06" cy="355.39" r="1.4"/>
<circle cx="234.01" cy="357.31" r="1.4"/>
<circle cx="243.3" cy="357.14" r="1.4"/>
<circle cx="261.52" cy="356.44" r="1.4"/>
<circle cx="273.26" cy="356.44" r="1.4"/>
<circle cx="225.26" cy="359.94" r="1.4"/>
<circle cx="227.36" cy="359.94" r="1.4"/>
<circle cx="231.91" cy="361.17" r="1.4"/>
<circle cx="241.02" cy="360.29" r="1.4"/>
<circle cx="249.08" cy="359.07" r="1.4"/>
<circle cx="257.14" cy="360.29" r="1.4"/>
<circle cx="262.39" cy="359.94" r="1.4"/>
<circle cx="272.55" cy="361.87" r="1.4"/>
<circle cx="257.14" cy="362.92" r="1.4"/>
<circle cx="257.31" cy="365.2" r="1.4"/>
<circle cx="276.06" cy="364.32" r="1.4"/>
<circle cx="236.12" cy="364.85" r="1.4"/>
<circle cx="227.53" cy="365.9" r="1.4"/>
<circle cx="249.08" cy="365.2" r="1.4"/>
<circle cx="237.52" cy="366.6" r="1.4"/>
<circle cx="240.5" cy="366.6" r="1.4"/>
<circle cx="236.12" cy="368.88" r="1.4"/>
<circle cx="277.28" cy="369.4" r="1.4"/>
<circle cx="225.78" cy="370.98" r="1.4"/>
<circle cx="258.54" cy="373.96" r="1.4"/>
<circle cx="234.19" cy="374.83" r="1.4"/>
<circle cx="224.03" cy="378.69" r="1.4"/>
</g>
<path d="M123.3 306.61H318.15" stroke="#ff303b" stroke-width="1.35" stroke-linecap="round" fill="none"/>
<path d="M123.3 342.3H318.15" stroke="#ff303b" stroke-width="1.35" stroke-linecap="round" fill="none"/>
<path d="M123.3 377.56H318.15" stroke="#ff303b" stroke-width="1.35" stroke-linecap="round" fill="none"/>
<path d="M134.2 399.4v-2.0M134.2 245.2v2.0M152.57 399.4v-2.0M152.57 245.2v2.0M170.95 399.4v-2.0M170.95 245.2v2.0M189.32 399.4v-2.0M189.32 245.2v2.0M207.7 399.4v-2.0M207.7 245.2v2.0M226.07 399.4v-2.0M226.07 245.2v2.0M244.45 399.4v-2.0M244.45 245.2v2.0M262.82 399.4v-2.0M262.82 245.2v2.0M281.2 399.4v-2.0M281.2 245.2v2.0M299.57 399.4v-2.0M299.57 245.2v2.0M317.95 399.4v-2.0M317.95 245.2v2.0M122.8 391.4h2.0M328.7 391.4h-2.0M122.8 375h2.0M328.7 375h-2.0M122.8 358.6h2.0M328.7 358.6h-2.0M122.8 342.2h2.0M328.7 342.2h-2.0M122.8 325.8h2.0M328.7 325.8h-2.0M122.8 309.4h2.0M328.7 309.4h-2.0M122.8 293h2.0M328.7 293h-2.0M122.8 276.6h2.0M328.7 276.6h-2.0M122.8 260.2h2.0M328.7 260.2h-2.0" stroke="#6c6c6c" stroke-width="0.5" fill="none"/>
<rect x="122.8" y="245.2" width="205.9" height="154.2" fill="none" stroke="#6c6c6c" stroke-width="0.85"/>
<g font-size="4.55" fill="#424242">
<text transform="translate(133.9 406.29) scale(0.1)" font-size="45.5" fill="#424242" text-anchor="middle" stroke="#424242" stroke-width="1.3">-2</text>
<text transform="translate(152.27 406.29) scale(0.1)" font-size="45.5" fill="#424242" text-anchor="middle" stroke="#424242" stroke-width="1.3">-1.5</text>
<text transform="translate(170.65 406.29) scale(0.1)" font-size="45.5" fill="#424242" text-anchor="middle" stroke="#424242" stroke-width="1.3">-1</text>
<text transform="translate(189.02 406.29) scale(0.1)" font-size="45.5" fill="#424242" text-anchor="middle" stroke="#424242" stroke-width="1.3">-0.5</text>
<text transform="translate(207.4 406.29) scale(0.1)" font-size="45.5" fill="#424242" text-anchor="middle" stroke="#424242" stroke-width="1.3">0</text>
<text transform="translate(225.77 406.29) scale(0.1)" font-size="45.5" fill="#424242" text-anchor="middle" stroke="#424242" stroke-width="1.3">0.5</text>
<text transform="translate(244.15 406.29) scale(0.1)" font-size="45.5" fill="#424242" text-anchor="middle" stroke="#424242" stroke-width="1.3">1</text>
<text transform="translate(262.52 406.29) scale(0.1)" font-size="45.5" fill="#424242" text-anchor="middle" stroke="#424242" stroke-width="1.3">1.5</text>
<text transform="translate(280.9 406.29) scale(0.1)" font-size="45.5" fill="#424242" text-anchor="middle" stroke="#424242" stroke-width="1.3">2</text>
<text transform="translate(299.27 406.29) scale(0.1)" font-size="45.5" fill="#424242" text-anchor="middle" stroke="#424242" stroke-width="1.3">2.5</text>
<text transform="translate(317.65 406.29) scale(0.1)" font-size="45.5" fill="#424242" text-anchor="middle" stroke="#424242" stroke-width="1.3">3</text>
<text transform="translate(121.1 393.24) scale(0.1)" font-size="45.5" fill="#424242" text-anchor="end" stroke="#424242" stroke-width="1.3">-1.5</text>
<text transform="translate(121.1 376.84) scale(0.1)" font-size="45.5" fill="#424242" text-anchor="end" stroke="#424242" stroke-width="1.3">-1</text>
<text transform="translate(121.1 360.44) scale(0.1)" font-size="45.5" fill="#424242" text-anchor="end" stroke="#424242" stroke-width="1.3">-0.5</text>
<text transform="translate(121.1 344.04) scale(0.1)" font-size="45.5" fill="#424242" text-anchor="end" stroke="#424242" stroke-width="1.3">0</text>
<text transform="translate(121.1 327.64) scale(0.1)" font-size="45.5" fill="#424242" text-anchor="end" stroke="#424242" stroke-width="1.3">0.5</text>
<text transform="translate(121.1 311.24) scale(0.1)" font-size="45.5" fill="#424242" text-anchor="end" stroke="#424242" stroke-width="1.3">1</text>
<text transform="translate(121.1 294.84) scale(0.1)" font-size="45.5" fill="#424242" text-anchor="end" stroke="#424242" stroke-width="1.3">1.5</text>
<text transform="translate(121.1 278.44) scale(0.1)" font-size="45.5" fill="#424242" text-anchor="end" stroke="#424242" stroke-width="1.3">2</text>
<text transform="translate(121.1 262.04) scale(0.1)" font-size="45.5" fill="#424242" text-anchor="end" stroke="#424242" stroke-width="1.3">2.5</text>
</g>
<text transform="translate(225.75 412.9) scale(0.1)" font-size="51.28" fill="#424242" text-anchor="middle" stroke="#424242" stroke-width="1.3">Obs-Model Average</text>
<text transform="translate(110.3 321.7) rotate(-90) scale(0.1)" font-size="51.28" fill="#424242" text-anchor="middle" stroke="#424242" stroke-width="1.3">Difference</text>
<text transform="translate(225.75 242.5) scale(0.1)" font-size="51.28" fill="#111" text-anchor="middle" font-weight="bold" stroke="#111" stroke-width="1.3">MLPW-M01</text>
<rect x="133.3" y="258.2" width="47.5" height="24.3" fill="#fff" stroke="#3a3a3a" stroke-width="0.6"/>
<circle cx="141.47" cy="262.09" r="1.45" fill="none" stroke="#3b8cc9" stroke-width="0.6"/>
<text transform="translate(149.55 263.59) scale(0.1)" font-size="41.86" fill="#2a2a2a" text-anchor="start" stroke="#2a2a2a" stroke-width="1">Difference</text>
<path d="M134.73 267.87H148.59" stroke="#ff303b" stroke-width="0.55"/>
<circle cx="141.47" cy="267.87" r="0.6" fill="#ff303b"/>
<text transform="translate(149.55 269.38) scale(0.1)" font-size="41.86" fill="#2a2a2a" text-anchor="start" stroke="#2a2a2a" stroke-width="1">Mean</text>
<path d="M134.73 273.65H148.59" stroke="#ff303b" stroke-width="0.55"/>
<circle cx="141.47" cy="273.65" r="0.6" fill="#ff303b"/>
<text transform="translate(149.55 275.16) scale(0.1)" font-size="41.86" fill="#2a2a2a" text-anchor="start" stroke="#2a2a2a" stroke-width="1">Mean + 1.96SD</text>
<path d="M134.73 279.44H148.59" stroke="#ff303b" stroke-width="0.55"/>
<circle cx="141.47" cy="279.44" r="0.6" fill="#ff303b"/>
<text transform="translate(149.55 280.95) scale(0.1)" font-size="41.86" fill="#2a2a2a" text-anchor="start" stroke="#2a2a2a" stroke-width="1">Mean - 1.96SD</text>
<g fill="#66aad7" stroke="#324a62" stroke-width="0.45">
<rect x="82.4" y="253.3" width="2.1" height="9.84"/>
<rect x="79.2" y="292.67" width="5.3" height="9.84"/>
<rect x="80.8" y="302.51" width="3.7" height="9.84"/>
<rect x="59.3" y="312.36" width="25.2" height="9.84"/>
<rect x="38.1" y="322.2" width="46.4" height="9.84"/>
<rect x="34.3" y="332.04" width="50.2" height="9.84"/>
<rect x="5.4" y="341.89" width="79.1" height="9.84"/>
<rect x="36.2" y="351.73" width="48.3" height="9.84"/>
<rect x="55.8" y="361.57" width="28.7" height="9.84"/>
<rect x="75.2" y="371.42" width="9.3" height="9.84"/>
<rect x="82.4" y="381.26" width="2.1" height="9.84"/>
</g>
<path d="M84.5 246.5V397.6" stroke="#505050" stroke-width="0.6"/>
<g fill="#66aad7" stroke="#324a62" stroke-width="0.45">
<rect x="133.9" y="424.2" width="18.4" height="7.6"/>
<rect x="152.3" y="424.2" width="18.4" height="13"/>
<rect x="170.7" y="424.2" width="18.6" height="28.6"/>
<rect x="189.3" y="424.2" width="18.4" height="31.9"/>
<rect x="207.7" y="424.2" width="18.4" height="30.5"/>
<rect x="226.1" y="424.2" width="18.4" height="59.1"/>
<rect x="244.5" y="424.2" width="18.2" height="28.6"/>
<rect x="262.7" y="424.2" width="18.4" height="15.6"/>
<rect x="281.1" y="424.2" width="18.4" height="5.8"/>
<rect x="299.5" y="424.2" width="18.3" height="4.2"/>
</g>
<path d="M125.2 424.2H326.5" stroke="#505050" stroke-width="0.6"/>
<rect x="461.9" y="249.9" width="222.2" height="141.6" fill="#fff"/>
<path d="M474.2 249.9V391.5M493.97 249.9V391.5M513.75 249.9V391.5M533.52 249.9V391.5M553.3 249.9V391.5M573.07 249.9V391.5M592.85 249.9V391.5M612.62 249.9V391.5M632.4 249.9V391.5M652.17 249.9V391.5M671.95 249.9V391.5M461.9 389.3H684.1M461.9 362.95H684.1M461.9 336.6H684.1M461.9 310.25H684.1M461.9 283.9H684.1M461.9 257.55H684.1" stroke="#e9e9e9" stroke-width="0.6" fill="none"/>
<g fill="none" stroke="#3b8cc9" stroke-width="0.6">
<circle cx="559.65" cy="275.29" r="1.4"/>
<circle cx="545.11" cy="293.51" r="1.4"/>
<circle cx="555.09" cy="299.82" r="1.4"/>
<circle cx="529.87" cy="303.32" r="1.4"/>
<circle cx="556.85" cy="307.35" r="1.4"/>
<circle cx="503.59" cy="309.28" r="1.4"/>
<circle cx="528.47" cy="309.28" r="1.4"/>
<circle cx="542.83" cy="309.1" r="1.4"/>
<circle cx="518.83" cy="313.13" r="1.4"/>
<circle cx="545.64" cy="316.11" r="1.4"/>
<circle cx="548.61" cy="316.11" r="1.4"/>
<circle cx="503.07" cy="320.84" r="1.4"/>
<circle cx="524.96" cy="321.36" r="1.4"/>
<circle cx="544.76" cy="321.19" r="1.4"/>
<circle cx="516.55" cy="324.34" r="1.4"/>
<circle cx="527.59" cy="324.34" r="1.4"/>
<circle cx="557.72" cy="324.69" r="1.4"/>
<circle cx="513.23" cy="326.48" r="1.4"/>
<circle cx="538.1" cy="326.48" r="1.4"/>
<circle cx="524.96" cy="327.88" r="1.4"/>
<circle cx="518.31" cy="329.11" r="1.4"/>
<circle cx="524.44" cy="330.16" r="1.4"/>
<circle cx="534.07" cy="328.76" r="1.4"/>
<circle cx="552.12" cy="328.76" r="1.4"/>
<circle cx="556.5" cy="327.53" r="1.4"/>
<circle cx="559.65" cy="328.76" r="1.4"/>
<circle cx="497.81" cy="332.96" r="1.4"/>
<circle cx="530.22" cy="332.79" r="1.4"/>
<circle cx="490.8" cy="336.64" r="1.4"/>
<circle cx="554.74" cy="335.77" r="1.4"/>
<circle cx="559.65" cy="336.64" r="1.4"/>
<circle cx="501.31" cy="339.45" r="1.4"/>
<circle cx="537.23" cy="341.02" r="1.4"/>
<circle cx="543.71" cy="339.8" r="1.4"/>
<circle cx="543.71" cy="340.67" r="1.4"/>
<circle cx="558.77" cy="339.27" r="1.4"/>
<circle cx="516.55" cy="345.75" r="1.4"/>
<circle cx="528.99" cy="346.63" r="1.4"/>
<circle cx="530.74" cy="347.68" r="1.4"/>
<circle cx="535.12" cy="348.38" r="1.4"/>
<circle cx="537.4" cy="349.78" r="1.4"/>
<circle cx="514.45" cy="350.66" r="1.4"/>
<circle cx="517.08" cy="349.43" r="1.4"/>
<circle cx="531.62" cy="349.78" r="1.4"/>
<circle cx="531.62" cy="351.53" r="1.4"/>
<circle cx="557.02" cy="351.88" r="1.4"/>
<circle cx="528.99" cy="356.79" r="1.4"/>
<circle cx="530.22" cy="356.44" r="1.4"/>
<circle cx="552.64" cy="357.14" r="1.4"/>
<circle cx="559.12" cy="358.54" r="1.4"/>
<circle cx="492.2" cy="360.99" r="1.4"/>
<circle cx="510.07" cy="360.64" r="1.4"/>
<circle cx="534.95" cy="360.64" r="1.4"/>
<circle cx="536.88" cy="362.92" r="1.4"/>
<circle cx="559.65" cy="365.02" r="1.4"/>
<circle cx="517.96" cy="369.75" r="1.4"/>
<circle cx="519.71" cy="370.28" r="1.4"/>
<circle cx="534.77" cy="369.75" r="1.4"/>
<circle cx="551.59" cy="369.75" r="1.4"/>
<circle cx="543.01" cy="371.5" r="1.4"/>
<circle cx="538.98" cy="373.43" r="1.4"/>
<circle cx="496.93" cy="376.93" r="1.4"/>
<circle cx="549.49" cy="378.16" r="1.4"/>
<circle cx="534.77" cy="379.04" r="1.4"/>
<circle cx="507.45" cy="381.31" r="1.4"/>
<circle cx="638.93" cy="269.86" r="1.4"/>
<circle cx="630.52" cy="272.31" r="1.4"/>
<circle cx="613.18" cy="277.39" r="1.4"/>
<circle cx="603.01" cy="279.32" r="1.4"/>
<circle cx="590.93" cy="280.2" r="1.4"/>
<circle cx="588.82" cy="284.4" r="1.4"/>
<circle cx="604.07" cy="285.45" r="1.4"/>
<circle cx="601.44" cy="287.03" r="1.4"/>
<circle cx="642.96" cy="288.43" r="1.4"/>
<circle cx="576.04" cy="289.13" r="1.4"/>
<circle cx="583.39" cy="291.23" r="1.4"/>
<circle cx="572.53" cy="294.56" r="1.4"/>
<circle cx="598.64" cy="296.31" r="1.4"/>
<circle cx="620.01" cy="295.96" r="1.4"/>
<circle cx="579.01" cy="297.72" r="1.4"/>
<circle cx="622.81" cy="300.69" r="1.4"/>
<circle cx="657.85" cy="301.57" r="1.4"/>
<circle cx="576.04" cy="302.09" r="1.4"/>
<circle cx="580.42" cy="301.74" r="1.4"/>
<circle cx="581.99" cy="302.8" r="1.4"/>
<circle cx="582.52" cy="303.32" r="1.4"/>
<circle cx="577.26" cy="304.37" r="1.4"/>
<circle cx="573.76" cy="307.35" r="1.4"/>
<circle cx="600.56" cy="308.23" r="1.4"/>
<circle cx="604.59" cy="307.7" r="1.4"/>
<circle cx="612.82" cy="308.05" r="1.4"/>
<circle cx="617.03" cy="308.93" r="1.4"/>
<circle cx="569.38" cy="310.33" r="1.4"/>
<circle cx="568.5" cy="310.85" r="1.4"/>
<circle cx="575.16" cy="313.13" r="1.4"/>
<circle cx="604.59" cy="312.78" r="1.4"/>
<circle cx="596.88" cy="314.36" r="1.4"/>
<circle cx="624.56" cy="314.18" r="1.4"/>
<circle cx="566.4" cy="316.46" r="1.4"/>
<circle cx="574.11" cy="317.34" r="1.4"/>
<circle cx="591.8" cy="319.26" r="1.4"/>
<circle cx="607.92" cy="318.74" r="1.4"/>
<circle cx="579.01" cy="320.31" r="1.4"/>
<circle cx="576.91" cy="321.36" r="1.4"/>
<circle cx="609.15" cy="320.49" r="1.4"/>
<circle cx="596.53" cy="322.24" r="1.4"/>
<circle cx="572.36" cy="324.34" r="1.4"/>
<circle cx="580.42" cy="324.69" r="1.4"/>
<circle cx="607.04" cy="324.69" r="1.4"/>
<circle cx="592.15" cy="320" r="1.4"/>
<circle cx="596.18" cy="322.98" r="1.4"/>
<circle cx="597.41" cy="322.45" r="1.4"/>
<circle cx="579.89" cy="325.26" r="1.4"/>
<circle cx="607.39" cy="326.13" r="1.4"/>
<circle cx="574.64" cy="327.53" r="1.4"/>
<circle cx="575.51" cy="328.06" r="1.4"/>
<circle cx="579.89" cy="329.28" r="1.4"/>
<circle cx="585.15" cy="329.28" r="1.4"/>
<circle cx="597.76" cy="330.86" r="1.4"/>
<circle cx="567.1" cy="331.91" r="1.4"/>
<circle cx="569.03" cy="332.26" r="1.4"/>
<circle cx="602.66" cy="336.29" r="1.4"/>
<circle cx="568.15" cy="336.99" r="1.4"/>
<circle cx="565" cy="338.39" r="1.4"/>
<circle cx="585.15" cy="344" r="1.4"/>
<circle cx="580.77" cy="345.75" r="1.4"/>
<circle cx="583.39" cy="346.8" r="1.4"/>
<circle cx="590.93" cy="345.93" r="1.4"/>
<circle cx="599.16" cy="344.7" r="1.4"/>
<circle cx="607.22" cy="346.63" r="1.4"/>
<circle cx="576.74" cy="347.85" r="1.4"/>
<circle cx="571.13" cy="351.01" r="1.4"/>
<circle cx="598.99" cy="351.88" r="1.4"/>
<circle cx="580.42" cy="352.76" r="1.4"/>
<circle cx="577.79" cy="354.16" r="1.4"/>
<circle cx="604.59" cy="356.44" r="1.4"/>
<circle cx="570.78" cy="357.14" r="1.4"/>
<circle cx="566.75" cy="358.89" r="1.4"/>
<circle cx="573.76" cy="361.34" r="1.4"/>
<circle cx="586.37" cy="360.47" r="1.4"/>
<circle cx="583.39" cy="362.22" r="1.4"/>
<circle cx="604.94" cy="360.64" r="1.4"/>
<circle cx="610.55" cy="360.64" r="1.4"/>
<circle cx="578.14" cy="364.32" r="1.4"/>
<circle cx="596.18" cy="368.88" r="1.4"/>
<circle cx="576.91" cy="380.09" r="1.4"/>
<circle cx="606.17" cy="382.36" r="1.4"/>
</g>
<path d="M462.4 279.36H672.15" stroke="#ff303b" stroke-width="1.35" stroke-linecap="round" fill="none"/>
<path d="M462.4 330.27H672.15" stroke="#ff303b" stroke-width="1.35" stroke-linecap="round" fill="none"/>
<path d="M462.4 381.07H672.15" stroke="#ff303b" stroke-width="1.35" stroke-linecap="round" fill="none"/>
<path d="M474.2 391.5v-2.0M474.2 249.9v2.0M493.97 391.5v-2.0M493.97 249.9v2.0M513.75 391.5v-2.0M513.75 249.9v2.0M533.52 391.5v-2.0M533.52 249.9v2.0M553.3 391.5v-2.0M553.3 249.9v2.0M573.07 391.5v-2.0M573.07 249.9v2.0M592.85 391.5v-2.0M592.85 249.9v2.0M612.62 391.5v-2.0M612.62 249.9v2.0M632.4 391.5v-2.0M632.4 249.9v2.0M652.17 391.5v-2.0M652.17 249.9v2.0M671.95 391.5v-2.0M671.95 249.9v2.0M461.9 389.3h2.0M684.1 389.3h-2.0M461.9 362.95h2.0M684.1 362.95h-2.0M461.9 336.6h2.0M684.1 336.6h-2.0M461.9 310.25h2.0M684.1 310.25h-2.0M461.9 283.9h2.0M684.1 283.9h-2.0M461.9 257.55h2.0M684.1 257.55h-2.0" stroke="#6c6c6c" stroke-width="0.5" fill="none"/>
<rect x="461.9" y="249.9" width="222.2" height="141.6" fill="none" stroke="#6c6c6c" stroke-width="0.85"/>
<g font-size="4.55" fill="#424242">
<text transform="translate(473.9 398.39) scale(0.1)" font-size="45.5" fill="#424242" text-anchor="middle" stroke="#424242" stroke-width="1.3">-2</text>
<text transform="translate(493.67 398.39) scale(0.1)" font-size="45.5" fill="#424242" text-anchor="middle" stroke="#424242" stroke-width="1.3">-1.5</text>
<text transform="translate(513.45 398.39) scale(0.1)" font-size="45.5" fill="#424242" text-anchor="middle" stroke="#424242" stroke-width="1.3">-1</text>
<text transform="translate(533.23 398.39) scale(0.1)" font-size="45.5" fill="#424242" text-anchor="middle" stroke="#424242" stroke-width="1.3">-0.5</text>
<text transform="translate(553 398.39) scale(0.1)" font-size="45.5" fill="#424242" text-anchor="middle" stroke="#424242" stroke-width="1.3">0</text>
<text transform="translate(572.77 398.39) scale(0.1)" font-size="45.5" fill="#424242" text-anchor="middle" stroke="#424242" stroke-width="1.3">0.5</text>
<text transform="translate(592.55 398.39) scale(0.1)" font-size="45.5" fill="#424242" text-anchor="middle" stroke="#424242" stroke-width="1.3">1</text>
<text transform="translate(612.33 398.39) scale(0.1)" font-size="45.5" fill="#424242" text-anchor="middle" stroke="#424242" stroke-width="1.3">1.5</text>
<text transform="translate(632.1 398.39) scale(0.1)" font-size="45.5" fill="#424242" text-anchor="middle" stroke="#424242" stroke-width="1.3">2</text>
<text transform="translate(651.88 398.39) scale(0.1)" font-size="45.5" fill="#424242" text-anchor="middle" stroke="#424242" stroke-width="1.3">2.5</text>
<text transform="translate(671.65 398.39) scale(0.1)" font-size="45.5" fill="#424242" text-anchor="middle" stroke="#424242" stroke-width="1.3">3</text>
<text transform="translate(460.2 391.14) scale(0.1)" font-size="45.5" fill="#424242" text-anchor="end" stroke="#424242" stroke-width="1.3">-1</text>
<text transform="translate(460.2 364.79) scale(0.1)" font-size="45.5" fill="#424242" text-anchor="end" stroke="#424242" stroke-width="1.3">-0.5</text>
<text transform="translate(460.2 338.44) scale(0.1)" font-size="45.5" fill="#424242" text-anchor="end" stroke="#424242" stroke-width="1.3">0</text>
<text transform="translate(460.2 312.09) scale(0.1)" font-size="45.5" fill="#424242" text-anchor="end" stroke="#424242" stroke-width="1.3">0.5</text>
<text transform="translate(460.2 285.74) scale(0.1)" font-size="45.5" fill="#424242" text-anchor="end" stroke="#424242" stroke-width="1.3">1</text>
<text transform="translate(460.2 259.39) scale(0.1)" font-size="45.5" fill="#424242" text-anchor="end" stroke="#424242" stroke-width="1.3">1.5</text>
</g>
<text transform="translate(573 404.6) scale(0.1)" font-size="51.28" fill="#424242" text-anchor="middle" stroke="#424242" stroke-width="1.3">Obs-Model Average</text>
<text transform="translate(449.4 320) rotate(-90) scale(0.1)" font-size="51.28" fill="#424242" text-anchor="middle" stroke="#424242" stroke-width="1.3">Difference</text>
<text transform="translate(573 247.6) scale(0.1)" font-size="51.28" fill="#111" text-anchor="middle" font-weight="bold" stroke="#111" stroke-width="1.3">xGboostW-M03</text>
<rect x="474.5" y="252.2" width="46.6" height="24.5" fill="#fff" stroke="#555" stroke-width="0.6"/>
<circle cx="482.52" cy="256.12" r="1.45" fill="none" stroke="#3b8cc9" stroke-width="0.6"/>
<text transform="translate(490.44 257.63) scale(0.1)" font-size="41.86" fill="#2a2a2a" text-anchor="start" stroke="#2a2a2a" stroke-width="1">Difference</text>
<path d="M475.9 261.95H489.51" stroke="#ff303b" stroke-width="0.55"/>
<circle cx="482.52" cy="261.95" r="0.6" fill="#ff303b"/>
<text transform="translate(490.44 263.46) scale(0.1)" font-size="41.86" fill="#2a2a2a" text-anchor="start" stroke="#2a2a2a" stroke-width="1">Mean</text>
<path d="M475.9 267.78H489.51" stroke="#ff303b" stroke-width="0.55"/>
<circle cx="482.52" cy="267.78" r="0.6" fill="#ff303b"/>
<text transform="translate(490.44 269.29) scale(0.1)" font-size="41.86" fill="#2a2a2a" text-anchor="start" stroke="#2a2a2a" stroke-width="1">Mean + 1.96SD</text>
<path d="M475.9 273.61H489.51" stroke="#ff303b" stroke-width="0.55"/>
<circle cx="482.52" cy="273.61" r="0.6" fill="#ff303b"/>
<text transform="translate(490.44 275.12) scale(0.1)" font-size="41.86" fill="#2a2a2a" text-anchor="start" stroke="#2a2a2a" stroke-width="1">Mean - 1.96SD</text>
<g fill="#66aad7" stroke="#324a62" stroke-width="0.45">
<rect x="415.3" y="257.1" width="4.8" height="15.83"/>
<rect x="401.4" y="272.93" width="18.7" height="15.83"/>
<rect x="378.4" y="288.76" width="41.7" height="15.83"/>
<rect x="357.3" y="304.59" width="62.8" height="15.83"/>
<rect x="334" y="320.42" width="86.1" height="15.83"/>
<rect x="350.2" y="336.25" width="69.9" height="15.83"/>
<rect x="371.3" y="352.08" width="48.8" height="15.83"/>
<rect x="390.2" y="367.91" width="29.9" height="15.83"/>
</g>
<path d="M420.1 251V389.9" stroke="#505050" stroke-width="0.6"/>
<g fill="#66aad7" stroke="#324a62" stroke-width="0.45">
<rect x="473.9" y="414.1" width="19.8" height="3.1"/>
<rect x="493.7" y="414.1" width="19.8" height="12.3"/>
<rect x="513.5" y="414.1" width="20" height="31.9"/>
<rect x="533.5" y="414.1" width="19.8" height="33.1"/>
<rect x="553.3" y="414.1" width="19.9" height="49.4"/>
<rect x="573.2" y="414.1" width="19.3" height="54.1"/>
<rect x="592.5" y="414.1" width="20" height="34.3"/>
<rect x="612.5" y="414.1" width="20" height="12.3"/>
<rect x="632.5" y="414.1" width="19.7" height="3.1"/>
<rect x="652.2" y="414.1" width="19.7" height="1.4"/>
</g>
<path d="M464.1 414.1H682" stroke="#505050" stroke-width="0.6"/>
<rect x="124.5" y="503.9" width="208" height="136.4" fill="#fff"/>
<path d="M135.65 503.9V640.3M154.25 503.9V640.3M172.85 503.9V640.3M191.45 503.9V640.3M210.05 503.9V640.3M228.65 503.9V640.3M247.25 503.9V640.3M265.85 503.9V640.3M284.45 503.9V640.3M303.05 503.9V640.3M321.65 503.9V640.3M124.5 624.4H332.5M124.5 601.85H332.5M124.5 579.3H332.5M124.5 556.75H332.5M124.5 534.2H332.5M124.5 511.65H332.5" stroke="#e9e9e9" stroke-width="0.6" fill="none"/>
<g fill="none" stroke="#3b8cc9" stroke-width="0.6">
<circle cx="219.65" cy="532.82" r="1.4"/>
<circle cx="204.58" cy="547.54" r="1.4"/>
<circle cx="212.47" cy="549.47" r="1.4"/>
<circle cx="188.82" cy="552.09" r="1.4"/>
<circle cx="175.85" cy="554.72" r="1.4"/>
<circle cx="200.2" cy="555.42" r="1.4"/>
<circle cx="214.22" cy="555.6" r="1.4"/>
<circle cx="219.65" cy="556.47" r="1.4"/>
<circle cx="204.58" cy="559.1" r="1.4"/>
<circle cx="209.14" cy="560.33" r="1.4"/>
<circle cx="215.62" cy="560.33" r="1.4"/>
<circle cx="166.57" cy="562.96" r="1.4"/>
<circle cx="200.38" cy="562.26" r="1.4"/>
<circle cx="193.72" cy="565.93" r="1.4"/>
<circle cx="210.01" cy="565.23" r="1.4"/>
<circle cx="217.37" cy="567.86" r="1.4"/>
<circle cx="176.55" cy="570.84" r="1.4"/>
<circle cx="182.34" cy="571.36" r="1.4"/>
<circle cx="184.96" cy="569.61" r="1.4"/>
<circle cx="192.85" cy="570.31" r="1.4"/>
<circle cx="206.34" cy="569.61" r="1.4"/>
<circle cx="208.61" cy="570.84" r="1.4"/>
<circle cx="214.74" cy="570.49" r="1.4"/>
<circle cx="166.57" cy="573.47" r="1.4"/>
<circle cx="188.12" cy="573.12" r="1.4"/>
<circle cx="192.32" cy="573.12" r="1.4"/>
<circle cx="215.62" cy="572.07" r="1.4"/>
<circle cx="206.34" cy="570.53" r="1.4"/>
<circle cx="183.74" cy="576.66" r="1.4"/>
<circle cx="184.96" cy="577.36" r="1.4"/>
<circle cx="186.36" cy="577.01" r="1.4"/>
<circle cx="188.99" cy="576.48" r="1.4"/>
<circle cx="160.44" cy="578.76" r="1.4"/>
<circle cx="152.03" cy="580.16" r="1.4"/>
<circle cx="199.85" cy="579.99" r="1.4"/>
<circle cx="214.39" cy="579.28" r="1.4"/>
<circle cx="219.65" cy="577.88" r="1.4"/>
<circle cx="177.96" cy="583.31" r="1.4"/>
<circle cx="171.47" cy="586.64" r="1.4"/>
<circle cx="182.34" cy="585.77" r="1.4"/>
<circle cx="186.72" cy="586.12" r="1.4"/>
<circle cx="191.09" cy="585.24" r="1.4"/>
<circle cx="196.35" cy="586.29" r="1.4"/>
<circle cx="203.36" cy="586.64" r="1.4"/>
<circle cx="214.22" cy="584.36" r="1.4"/>
<circle cx="188.47" cy="588.39" r="1.4"/>
<circle cx="211.77" cy="588.39" r="1.4"/>
<circle cx="212.64" cy="591.02" r="1.4"/>
<circle cx="216.5" cy="589.62" r="1.4"/>
<circle cx="219.65" cy="587.52" r="1.4"/>
<circle cx="175.85" cy="589.8" r="1.4"/>
<circle cx="165.34" cy="593.12" r="1.4"/>
<circle cx="172.7" cy="593.65" r="1.4"/>
<circle cx="178.48" cy="593.3" r="1.4"/>
<circle cx="219.65" cy="592.77" r="1.4"/>
<circle cx="187.94" cy="594.53" r="1.4"/>
<circle cx="187.59" cy="596.8" r="1.4"/>
<circle cx="191.62" cy="596.63" r="1.4"/>
<circle cx="192.85" cy="598.03" r="1.4"/>
<circle cx="195.47" cy="597.5" r="1.4"/>
<circle cx="199.5" cy="597.5" r="1.4"/>
<circle cx="198.98" cy="598.91" r="1.4"/>
<circle cx="169.2" cy="598.55" r="1.4"/>
<circle cx="205.64" cy="600.66" r="1.4"/>
<circle cx="153.78" cy="601.53" r="1.4"/>
<circle cx="211.77" cy="602.76" r="1.4"/>
<circle cx="215.8" cy="602.76" r="1.4"/>
<circle cx="191.45" cy="604.51" r="1.4"/>
<circle cx="176.55" cy="606.44" r="1.4"/>
<circle cx="190.74" cy="610.64" r="1.4"/>
<circle cx="197.05" cy="611.69" r="1.4"/>
<circle cx="157.64" cy="614.5" r="1.4"/>
<circle cx="166.74" cy="616.25" r="1.4"/>
<circle cx="289.72" cy="520.74" r="1.4"/>
<circle cx="243.65" cy="526.69" r="1.4"/>
<circle cx="243.3" cy="534.93" r="1.4"/>
<circle cx="287.09" cy="535.8" r="1.4"/>
<circle cx="294.98" cy="540.71" r="1.4"/>
<circle cx="306.36" cy="545.09" r="1.4"/>
<circle cx="251.88" cy="543.34" r="1.4"/>
<circle cx="271.68" cy="542.11" r="1.4"/>
<circle cx="229.11" cy="545.96" r="1.4"/>
<circle cx="231.04" cy="547.19" r="1.4"/>
<circle cx="234.36" cy="545.09" r="1.4"/>
<circle cx="262.39" cy="547.19" r="1.4"/>
<circle cx="263.27" cy="546.66" r="1.4"/>
<circle cx="274.83" cy="547.72" r="1.4"/>
<circle cx="236.64" cy="548.59" r="1.4"/>
<circle cx="232.26" cy="550.34" r="1.4"/>
<circle cx="236.99" cy="552.09" r="1.4"/>
<circle cx="242.77" cy="550.87" r="1.4"/>
<circle cx="260.82" cy="550.52" r="1.4"/>
<circle cx="273.08" cy="550.17" r="1.4"/>
<circle cx="276.06" cy="552.45" r="1.4"/>
<circle cx="221.75" cy="551.92" r="1.4"/>
<circle cx="223.85" cy="555.42" r="1.4"/>
<circle cx="233.14" cy="554.2" r="1.4"/>
<circle cx="254.16" cy="555.07" r="1.4"/>
<circle cx="249.43" cy="555.95" r="1.4"/>
<circle cx="255.04" cy="556.3" r="1.4"/>
<circle cx="266.95" cy="556.82" r="1.4"/>
<circle cx="227.88" cy="558.23" r="1.4"/>
<circle cx="230.86" cy="558.58" r="1.4"/>
<circle cx="227.53" cy="561.73" r="1.4"/>
<circle cx="260.64" cy="562.08" r="1.4"/>
<circle cx="262.04" cy="563.31" r="1.4"/>
<circle cx="223.15" cy="563.83" r="1.4"/>
<circle cx="232.61" cy="563.83" r="1.4"/>
<circle cx="233.14" cy="564.71" r="1.4"/>
<circle cx="278.69" cy="565.58" r="1.4"/>
<circle cx="227.01" cy="566.81" r="1.4"/>
<circle cx="242.77" cy="566.81" r="1.4"/>
<circle cx="247.68" cy="566.99" r="1.4"/>
<circle cx="261.17" cy="566.11" r="1.4"/>
<circle cx="262.92" cy="567.34" r="1.4"/>
<circle cx="232.61" cy="568.21" r="1.4"/>
<circle cx="238.39" cy="569.61" r="1.4"/>
<circle cx="234.01" cy="571.36" r="1.4"/>
<circle cx="275.53" cy="569.61" r="1.4"/>
<circle cx="250.66" cy="571.19" r="1.4"/>
<circle cx="252.76" cy="571.89" r="1.4"/>
<circle cx="220.88" cy="574.34" r="1.4"/>
<circle cx="254.51" cy="574.38" r="1.4"/>
<circle cx="223.15" cy="577.88" r="1.4"/>
<circle cx="232.61" cy="576.66" r="1.4"/>
<circle cx="233.66" cy="577.88" r="1.4"/>
<circle cx="236.99" cy="577.88" r="1.4"/>
<circle cx="250.13" cy="579.11" r="1.4"/>
<circle cx="242.77" cy="580.86" r="1.4"/>
<circle cx="225.61" cy="582.79" r="1.4"/>
<circle cx="226.31" cy="583.49" r="1.4"/>
<circle cx="228.76" cy="583.49" r="1.4"/>
<circle cx="230.86" cy="584.89" r="1.4"/>
<circle cx="231.91" cy="585.77" r="1.4"/>
<circle cx="236.12" cy="587.17" r="1.4"/>
<circle cx="229.99" cy="588.04" r="1.4"/>
<circle cx="220.88" cy="592.42" r="1.4"/>
<circle cx="262.04" cy="591.37" r="1.4"/>
<circle cx="225.78" cy="596.8" r="1.4"/>
<circle cx="227.88" cy="596.98" r="1.4"/>
<circle cx="241.02" cy="599.43" r="1.4"/>
<circle cx="247.15" cy="599.43" r="1.4"/>
<circle cx="256.26" cy="600.48" r="1.4"/>
<circle cx="259.77" cy="600.13" r="1.4"/>
<circle cx="229.28" cy="603.11" r="1.4"/>
<circle cx="227.01" cy="604.16" r="1.4"/>
<circle cx="266.95" cy="608.01" r="1.4"/>
<circle cx="265.02" cy="615.55" r="1.4"/>
<circle cx="262.57" cy="625.53" r="1.4"/>
</g>
<path d="M125 534.75H321.85" stroke="#ff303b" stroke-width="1.35" stroke-linecap="round" fill="none"/>
<path d="M125 574.21H321.85" stroke="#ff303b" stroke-width="1.35" stroke-linecap="round" fill="none"/>
<path d="M125 613.9H321.85" stroke="#ff303b" stroke-width="1.35" stroke-linecap="round" fill="none"/>
<path d="M135.65 640.3v-2.0M135.65 503.9v2.0M154.25 640.3v-2.0M154.25 503.9v2.0M172.85 640.3v-2.0M172.85 503.9v2.0M191.45 640.3v-2.0M191.45 503.9v2.0M210.05 640.3v-2.0M210.05 503.9v2.0M228.65 640.3v-2.0M228.65 503.9v2.0M247.25 640.3v-2.0M247.25 503.9v2.0M265.85 640.3v-2.0M265.85 503.9v2.0M284.45 640.3v-2.0M284.45 503.9v2.0M303.05 640.3v-2.0M303.05 503.9v2.0M321.65 640.3v-2.0M321.65 503.9v2.0M124.5 624.4h2.0M332.5 624.4h-2.0M124.5 601.85h2.0M332.5 601.85h-2.0M124.5 579.3h2.0M332.5 579.3h-2.0M124.5 556.75h2.0M332.5 556.75h-2.0M124.5 534.2h2.0M332.5 534.2h-2.0M124.5 511.65h2.0M332.5 511.65h-2.0" stroke="#6c6c6c" stroke-width="0.5" fill="none"/>
<rect x="124.5" y="503.9" width="208" height="136.4" fill="none" stroke="#6c6c6c" stroke-width="0.85"/>
<g font-size="4.55" fill="#424242">
<text transform="translate(135.35 647.19) scale(0.1)" font-size="45.5" fill="#424242" text-anchor="middle" stroke="#424242" stroke-width="1.3">-2</text>
<text transform="translate(153.95 647.19) scale(0.1)" font-size="45.5" fill="#424242" text-anchor="middle" stroke="#424242" stroke-width="1.3">-1.5</text>
<text transform="translate(172.55 647.19) scale(0.1)" font-size="45.5" fill="#424242" text-anchor="middle" stroke="#424242" stroke-width="1.3">-1</text>
<text transform="translate(191.15 647.19) scale(0.1)" font-size="45.5" fill="#424242" text-anchor="middle" stroke="#424242" stroke-width="1.3">-0.5</text>
<text transform="translate(209.75 647.19) scale(0.1)" font-size="45.5" fill="#424242" text-anchor="middle" stroke="#424242" stroke-width="1.3">0</text>
<text transform="translate(228.35 647.19) scale(0.1)" font-size="45.5" fill="#424242" text-anchor="middle" stroke="#424242" stroke-width="1.3">0.5</text>
<text transform="translate(246.95 647.19) scale(0.1)" font-size="45.5" fill="#424242" text-anchor="middle" stroke="#424242" stroke-width="1.3">1</text>
<text transform="translate(265.55 647.19) scale(0.1)" font-size="45.5" fill="#424242" text-anchor="middle" stroke="#424242" stroke-width="1.3">1.5</text>
<text transform="translate(284.15 647.19) scale(0.1)" font-size="45.5" fill="#424242" text-anchor="middle" stroke="#424242" stroke-width="1.3">2</text>
<text transform="translate(302.75 647.19) scale(0.1)" font-size="45.5" fill="#424242" text-anchor="middle" stroke="#424242" stroke-width="1.3">2.5</text>
<text transform="translate(321.35 647.19) scale(0.1)" font-size="45.5" fill="#424242" text-anchor="middle" stroke="#424242" stroke-width="1.3">3</text>
<text transform="translate(122.8 626.24) scale(0.1)" font-size="45.5" fill="#424242" text-anchor="end" stroke="#424242" stroke-width="1.3">-1</text>
<text transform="translate(122.8 603.69) scale(0.1)" font-size="45.5" fill="#424242" text-anchor="end" stroke="#424242" stroke-width="1.3">-0.5</text>
<text transform="translate(122.8 581.14) scale(0.1)" font-size="45.5" fill="#424242" text-anchor="end" stroke="#424242" stroke-width="1.3">0</text>
<text transform="translate(122.8 558.59) scale(0.1)" font-size="45.5" fill="#424242" text-anchor="end" stroke="#424242" stroke-width="1.3">0.5</text>
<text transform="translate(122.8 536.04) scale(0.1)" font-size="45.5" fill="#424242" text-anchor="end" stroke="#424242" stroke-width="1.3">1</text>
<text transform="translate(122.8 513.49) scale(0.1)" font-size="45.5" fill="#424242" text-anchor="end" stroke="#424242" stroke-width="1.3">1.5</text>
</g>
<text transform="translate(228.5 653.7) scale(0.1)" font-size="51.28" fill="#424242" text-anchor="middle" stroke="#424242" stroke-width="1.3">Obs-Model Average</text>
<text transform="translate(112.1 572.3) rotate(-90) scale(0.1)" font-size="51.28" fill="#424242" text-anchor="middle" stroke="#424242" stroke-width="1.3">Difference</text>
<text transform="translate(228.5 501.6) scale(0.1)" font-size="51.28" fill="#111" text-anchor="middle" font-weight="bold" stroke="#111" stroke-width="1.3">CatboostW-M03</text>
<rect x="134.5" y="508.3" width="46.6" height="24" fill="#fff" stroke="#3a3a3a" stroke-width="0.6"/>
<circle cx="142.52" cy="512.14" r="1.45" fill="none" stroke="#3b8cc9" stroke-width="0.6"/>
<text transform="translate(150.44 513.65) scale(0.1)" font-size="41.86" fill="#2a2a2a" text-anchor="start" stroke="#2a2a2a" stroke-width="1">Difference</text>
<path d="M135.9 517.85H149.51" stroke="#ff303b" stroke-width="0.55"/>
<circle cx="142.52" cy="517.85" r="0.6" fill="#ff303b"/>
<text transform="translate(150.44 519.36) scale(0.1)" font-size="41.86" fill="#2a2a2a" text-anchor="start" stroke="#2a2a2a" stroke-width="1">Mean</text>
<path d="M135.9 523.56H149.51" stroke="#ff303b" stroke-width="0.55"/>
<circle cx="142.52" cy="523.56" r="0.6" fill="#ff303b"/>
<text transform="translate(150.44 525.07) scale(0.1)" font-size="41.86" fill="#2a2a2a" text-anchor="start" stroke="#2a2a2a" stroke-width="1">Mean + 1.96SD</text>
<path d="M135.9 529.28H149.51" stroke="#ff303b" stroke-width="0.55"/>
<circle cx="142.52" cy="529.28" r="0.6" fill="#ff303b"/>
<text transform="translate(150.44 530.78) scale(0.1)" font-size="41.86" fill="#2a2a2a" text-anchor="start" stroke="#2a2a2a" stroke-width="1">Mean - 1.96SD</text>
<g fill="#66aad7" stroke="#324a62" stroke-width="0.45">
<rect x="83.7" y="511.5" width="1.9" height="13.47"/>
<rect x="78.1" y="524.97" width="7.5" height="13.47"/>
<rect x="49.3" y="538.44" width="36.3" height="13.47"/>
<rect x="31.3" y="551.91" width="54.3" height="13.47"/>
<rect x="4.7" y="565.38" width="80.9" height="13.47"/>
<rect x="30.1" y="578.85" width="55.5" height="13.47"/>
<rect x="37.3" y="592.32" width="48.3" height="13.47"/>
<rect x="72.2" y="605.79" width="13.4" height="13.47"/>
<rect x="83.7" y="619.26" width="1.9" height="13.47"/>
</g>
<path d="M85.6 504.9V638.9" stroke="#505050" stroke-width="0.6"/>
<g fill="#66aad7" stroke="#324a62" stroke-width="0.45">
<rect x="135.7" y="662.3" width="18.7" height="3.2"/>
<rect x="154.4" y="662.3" width="18.6" height="14.1"/>
<rect x="173" y="662.3" width="18.6" height="32.3"/>
<rect x="191.6" y="662.3" width="18.5" height="33.9"/>
<rect x="210.1" y="662.3" width="18.7" height="52.1"/>
<rect x="228.8" y="662.3" width="18.5" height="51.1"/>
<rect x="247.3" y="662.3" width="18.4" height="34.9"/>
<rect x="265.7" y="662.3" width="18.6" height="12.1"/>
<rect x="284.3" y="662.3" width="18.6" height="4.4"/>
<rect x="302.9" y="662.3" width="18.7" height="1.4"/>
</g>
<path d="M126.7 662.3H330.7" stroke="#505050" stroke-width="0.6"/>
<path d="M399.5 493.2V719.3M462.6 493.2V719.3M525.7 493.2V719.3M588.8 493.2V719.3M651.9 493.2V719.3M368 710.52H683.5M368 683.9H683.5M368 657.27H683.5M368 630.65H683.5M368 604.02H683.5M368 577.4H683.5M368 550.77H683.5M368 524.15H683.5M368 497.52H683.5" stroke="#e9e9e9" stroke-width="0.6" fill="none"/>
<path d="M399.5 569.5V550.5M399.5 588V610.3" stroke="#333" stroke-width="0.55" stroke-dasharray="3.7 1.75" fill="none"/>
<path d="M391.5 550.5h16M391.5 610.3h16" stroke="#333" stroke-width="0.6" fill="none"/>
<path d="M383.5 569.5H415.5V575.8L407.5 578.4L415.5 581.4V588H383.5V581.4L391.5 578.4L383.5 575.8Z" stroke="#3a3aff" stroke-width="0.6" fill="none"/>
<path d="M391.5 578.4h16" stroke="#ff4040" stroke-width="0.6" fill="none"/>
<path d="M398.2 537.1h2.6M399.5 535.8v2.6" stroke="#ff3030" stroke-width="0.5" fill="none"/>
<path d="M398.2 617h2.6M399.5 615.7v2.6" stroke="#ff3030" stroke-width="0.5" fill="none"/>
<path d="M398.2 618.2h2.6M399.5 616.9v2.6" stroke="#ff3030" stroke-width="0.5" fill="none"/>
<path d="M398.2 619.4h2.6M399.5 618.1v2.6" stroke="#ff3030" stroke-width="0.5" fill="none"/>
<path d="M462.6 570.4V542.5M462.6 589.4V611.3" stroke="#333" stroke-width="0.55" stroke-dasharray="3.7 1.75" fill="none"/>
<path d="M454.6 542.5h16M454.6 611.3h16" stroke="#333" stroke-width="0.6" fill="none"/>
<path d="M446.6 570.4H478.6V576.2L470.6 579.2L478.6 582.3V589.4H446.6V582.3L454.6 579.2L446.6 576.2Z" stroke="#3a3aff" stroke-width="0.6" fill="none"/>
<path d="M454.6 579.2h16" stroke="#ff4040" stroke-width="0.6" fill="none"/>
<path d="M461.3 524.2h2.6M462.6 522.9v2.6" stroke="#ff3030" stroke-width="0.5" fill="none"/>
<path d="M461.3 539.4h2.6M462.6 538.1v2.6" stroke="#ff3030" stroke-width="0.5" fill="none"/>
<path d="M525.7 557.9V503.5M525.7 595.6V649.1" stroke="#333" stroke-width="0.55" stroke-dasharray="3.7 1.75" fill="none"/>
<path d="M517.7 503.5h16M517.7 649.1h16" stroke="#333" stroke-width="0.6" fill="none"/>
<path d="M509.7 557.9H541.7V570.2L533.7 575.2L541.7 580.2V595.6H509.7V580.2L517.7 575.2L509.7 570.2Z" stroke="#3a3aff" stroke-width="0.6" fill="none"/>
<path d="M517.7 575.2h16" stroke="#ff4040" stroke-width="0.6" fill="none"/>
<path d="M524.4 655.1h2.6M525.7 653.8v2.6" stroke="#ff3030" stroke-width="0.5" fill="none"/>
<path d="M524.4 709.5h2.6M525.7 708.2v2.6" stroke="#ff3030" stroke-width="0.5" fill="none"/>
<path d="M588.8 562.7V530.6M588.8 603.3V644.7" stroke="#333" stroke-width="0.55" stroke-dasharray="3.7 1.75" fill="none"/>
<path d="M580.8 530.6h16M580.8 644.7h16" stroke="#333" stroke-width="0.6" fill="none"/>
<path d="M572.8 562.7H604.8V579.2L596.8 584.4L604.8 589.4V603.3H572.8V589.4L580.8 584.4L572.8 579.2Z" stroke="#3a3aff" stroke-width="0.6" fill="none"/>
<path d="M580.8 584.4h16" stroke="#ff4040" stroke-width="0.6" fill="none"/>
<path d="M651.9 565.8V521.5M651.9 601.2V646.2" stroke="#333" stroke-width="0.55" stroke-dasharray="3.7 1.75" fill="none"/>
<path d="M643.9 521.5h16M643.9 646.2h16" stroke="#333" stroke-width="0.6" fill="none"/>
<path d="M635.9 565.8H667.9V579.2L659.9 583.7L667.9 588.3V601.2H635.9V588.3L643.9 583.7L635.9 579.2Z" stroke="#3a3aff" stroke-width="0.6" fill="none"/>
<path d="M643.9 583.7h16" stroke="#ff4040" stroke-width="0.6" fill="none"/>
<path d="M399.5 719.3v-2.6M399.5 493.2v2.6M462.6 719.3v-2.6M462.6 493.2v2.6M525.7 719.3v-2.6M525.7 493.2v2.6M588.8 719.3v-2.6M588.8 493.2v2.6M651.9 719.3v-2.6M651.9 493.2v2.6M368 710.52h2.6M683.5 710.52h-2.6M368 683.9h2.6M683.5 683.9h-2.6M368 657.27h2.6M683.5 657.27h-2.6M368 630.65h2.6M683.5 630.65h-2.6M368 604.02h2.6M683.5 604.02h-2.6M368 577.4h2.6M683.5 577.4h-2.6M368 550.77h2.6M683.5 550.77h-2.6M368 524.15h2.6M683.5 524.15h-2.6M368 497.52h2.6M683.5 497.52h-2.6" stroke="#6c6c6c" stroke-width="0.5" fill="none"/>
<rect x="368" y="493.2" width="315.5" height="226.1" fill="none" stroke="#6c6c6c" stroke-width="0.85"/>
<g font-size="4.7" fill="#424242">
<text transform="translate(365.8 712.42) scale(0.1)" font-size="47" fill="#424242" text-anchor="end" stroke="#424242" stroke-width="1.3">-2.5</text>
<text transform="translate(365.8 685.79) scale(0.1)" font-size="47" fill="#424242" text-anchor="end" stroke="#424242" stroke-width="1.3">-2</text>
<text transform="translate(365.8 659.17) scale(0.1)" font-size="47" fill="#424242" text-anchor="end" stroke="#424242" stroke-width="1.3">-1.5</text>
<text transform="translate(365.8 632.54) scale(0.1)" font-size="47" fill="#424242" text-anchor="end" stroke="#424242" stroke-width="1.3">-1</text>
<text transform="translate(365.8 605.92) scale(0.1)" font-size="47" fill="#424242" text-anchor="end" stroke="#424242" stroke-width="1.3">-0.5</text>
<text transform="translate(365.8 579.29) scale(0.1)" font-size="47" fill="#424242" text-anchor="end" stroke="#424242" stroke-width="1.3">0</text>
<text transform="translate(365.8 552.67) scale(0.1)" font-size="47" fill="#424242" text-anchor="end" stroke="#424242" stroke-width="1.3">0.5</text>
<text transform="translate(365.8 526.04) scale(0.1)" font-size="47" fill="#424242" text-anchor="end" stroke="#424242" stroke-width="1.3">1</text>
<text transform="translate(365.8 499.42) scale(0.1)" font-size="47" fill="#424242" text-anchor="end" stroke="#424242" stroke-width="1.3">1.5</text>
<text transform="translate(399.5 726.9) scale(0.1)" font-size="47" fill="#424242" text-anchor="middle" stroke="#424242" stroke-width="1.3">SVMW-M03</text>
<text transform="translate(462.6 726.9) scale(0.1)" font-size="47" fill="#424242" text-anchor="middle" stroke="#424242" stroke-width="1.3">LSTMW-M02</text>
<text transform="translate(525.7 726.9) scale(0.1)" font-size="47" fill="#424242" text-anchor="middle" stroke="#424242" stroke-width="1.3">MLPW-M04</text>
<text transform="translate(588.8 726.9) scale(0.1)" font-size="47" fill="#424242" text-anchor="middle" stroke="#424242" stroke-width="1.3">xGboostW-M03</text>
<text transform="translate(651.9 726.9) scale(0.1)" font-size="47" fill="#424242" text-anchor="middle" stroke="#424242" stroke-width="1.3">CatboostW-M04</text>
</g>
<text transform="translate(525.8 490.5) scale(0.1)" font-size="55.5" fill="#111" text-anchor="middle" font-weight="bold" stroke="#111" stroke-width="1.3">Error Box Plot</text>
</g>
</svg>
</body></html>
